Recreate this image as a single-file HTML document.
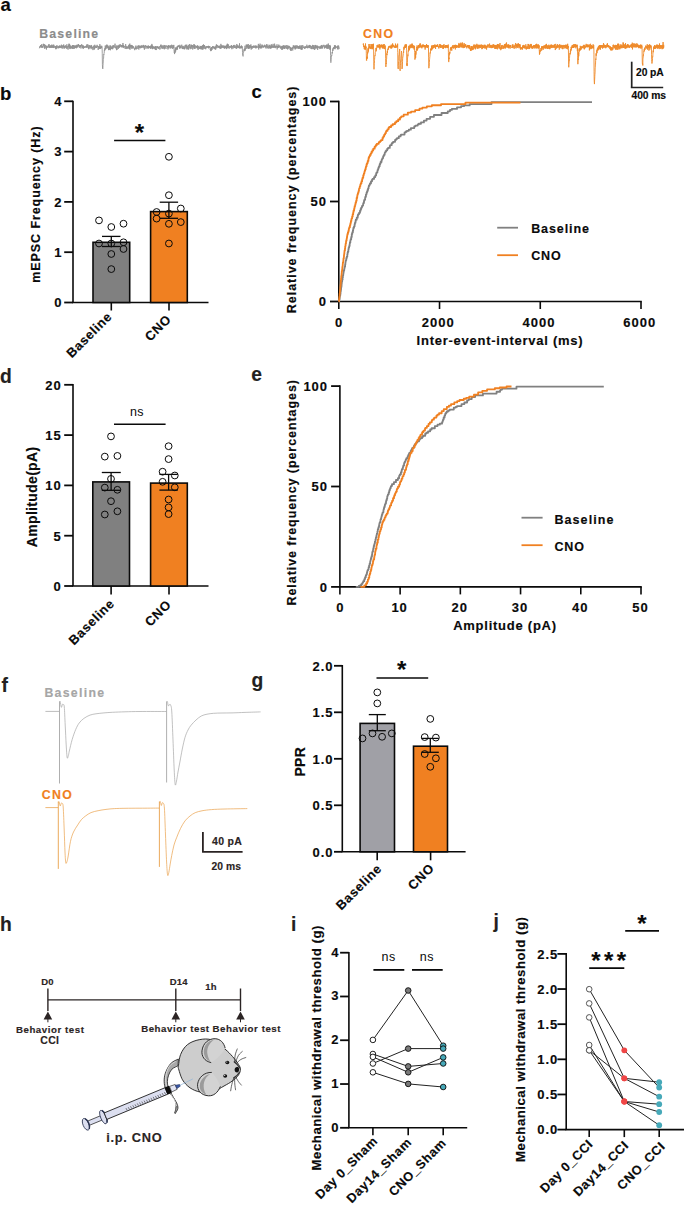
<!DOCTYPE html>
<html><head><meta charset="utf-8"><style>
html,body{margin:0;padding:0;background:#fff;}
svg{display:block;font-family:"Liberation Sans", sans-serif;}
</style></head><body>
<svg width="685" height="1205" viewBox="0 0 685 1205">
<rect width="685" height="1205" fill="#fff"/>
<text x="0.5" y="11.1" font-size="18.5" font-weight="bold" text-anchor="start" fill="#0a0a0a" stroke="#0a0a0a" stroke-width="0.15">a</text>
<text x="0" y="99.6" font-size="18.5" font-weight="bold" text-anchor="start" fill="#0a0a0a" stroke="#0a0a0a" stroke-width="0.15">b</text>
<text x="251.5" y="98" font-size="18.5" font-weight="bold" text-anchor="start" fill="#0a0a0a" stroke="#0a0a0a" stroke-width="0.15">c</text>
<text x="0" y="382.9" font-size="19.3" font-weight="bold" text-anchor="start" fill="#231f20" stroke="#231f20" stroke-width="0.15">d</text>
<text x="251.3" y="381.4" font-size="19.3" font-weight="bold" text-anchor="start" fill="#231f20" stroke="#231f20" stroke-width="0.15">e</text>
<text x="1.5" y="691.5" font-size="19.3" font-weight="bold" text-anchor="start" fill="#231f20" stroke="#231f20" stroke-width="0.15">f</text>
<text x="251.4" y="687" font-size="19.3" font-weight="bold" text-anchor="start" fill="#231f20" stroke="#231f20" stroke-width="0.15">g</text>
<text x="0" y="931" font-size="19.3" font-weight="bold" text-anchor="start" fill="#231f20" stroke="#231f20" stroke-width="0.15">h</text>
<text x="291" y="930.9" font-size="19.3" font-weight="bold" text-anchor="start" fill="#231f20" stroke="#231f20" stroke-width="0.15">i</text>
<text x="493.5" y="928.3" font-size="19.3" font-weight="bold" text-anchor="start" fill="#231f20" stroke="#231f20" stroke-width="0.15">j</text>
<line x1="73.00" y1="100.70" x2="73.00" y2="302.50" stroke="#0a0a0a" stroke-width="1.6" stroke-linecap="butt"/>
<line x1="64.20" y1="302.50" x2="73.00" y2="302.50" stroke="#0a0a0a" stroke-width="1.8" stroke-linecap="butt"/>
<text x="62.5" y="307.3" font-size="13" font-weight="bold" text-anchor="end" fill="#0a0a0a" letter-spacing="0.9" stroke="#0a0a0a" stroke-width="0.15">0</text>
<line x1="64.20" y1="252.20" x2="73.00" y2="252.20" stroke="#0a0a0a" stroke-width="1.8" stroke-linecap="butt"/>
<text x="62.5" y="257.0" font-size="13" font-weight="bold" text-anchor="end" fill="#0a0a0a" letter-spacing="0.9" stroke="#0a0a0a" stroke-width="0.15">1</text>
<line x1="64.20" y1="201.90" x2="73.00" y2="201.90" stroke="#0a0a0a" stroke-width="1.8" stroke-linecap="butt"/>
<text x="62.5" y="206.70000000000002" font-size="13" font-weight="bold" text-anchor="end" fill="#0a0a0a" letter-spacing="0.9" stroke="#0a0a0a" stroke-width="0.15">2</text>
<line x1="64.20" y1="151.60" x2="73.00" y2="151.60" stroke="#0a0a0a" stroke-width="1.8" stroke-linecap="butt"/>
<text x="62.5" y="156.40000000000003" font-size="13" font-weight="bold" text-anchor="end" fill="#0a0a0a" letter-spacing="0.9" stroke="#0a0a0a" stroke-width="0.15">3</text>
<line x1="64.20" y1="101.30" x2="73.00" y2="101.30" stroke="#0a0a0a" stroke-width="1.8" stroke-linecap="butt"/>
<text x="62.5" y="106.10000000000001" font-size="13" font-weight="bold" text-anchor="end" fill="#0a0a0a" letter-spacing="0.9" stroke="#0a0a0a" stroke-width="0.15">4</text>
<line x1="72.20" y1="302.50" x2="208.50" y2="302.50" stroke="#0a0a0a" stroke-width="1.6" stroke-linecap="butt"/>
<line x1="111.30" y1="302.50" x2="111.30" y2="310.50" stroke="#0a0a0a" stroke-width="1.6" stroke-linecap="butt"/>
<line x1="169.00" y1="302.50" x2="169.00" y2="310.50" stroke="#0a0a0a" stroke-width="1.6" stroke-linecap="butt"/>
<rect x="93.00" y="242.30" width="36.70" height="60.20" fill="#808080" stroke="#0a0a0a" stroke-width="1.6"/>
<rect x="150.60" y="211.60" width="36.70" height="90.90" fill="#f08021" stroke="#0a0a0a" stroke-width="1.6"/>
<line x1="111.30" y1="236.40" x2="111.30" y2="246.50" stroke="#0a0a0a" stroke-width="1.3" stroke-linecap="butt"/>
<line x1="102.00" y1="236.40" x2="120.50" y2="236.40" stroke="#0a0a0a" stroke-width="1.3" stroke-linecap="butt"/>
<line x1="102.00" y1="246.50" x2="120.50" y2="246.50" stroke="#0a0a0a" stroke-width="1.3" stroke-linecap="butt"/>
<line x1="168.90" y1="202.20" x2="168.90" y2="218.30" stroke="#0a0a0a" stroke-width="1.3" stroke-linecap="butt"/>
<line x1="159.70" y1="202.20" x2="178.10" y2="202.20" stroke="#0a0a0a" stroke-width="1.3" stroke-linecap="butt"/>
<line x1="159.70" y1="218.30" x2="178.10" y2="218.30" stroke="#0a0a0a" stroke-width="1.3" stroke-linecap="butt"/>
<circle cx="99.00" cy="220.40" r="3.4" fill="none" stroke="#0a0a0a" stroke-width="1.0"/>
<circle cx="111.30" cy="227.00" r="3.4" fill="none" stroke="#0a0a0a" stroke-width="1.0"/>
<circle cx="123.50" cy="223.70" r="3.4" fill="none" stroke="#0a0a0a" stroke-width="1.0"/>
<circle cx="99.00" cy="243.50" r="3.4" fill="none" stroke="#0a0a0a" stroke-width="1.0"/>
<circle cx="111.30" cy="243.50" r="3.4" fill="none" stroke="#0a0a0a" stroke-width="1.0"/>
<circle cx="123.50" cy="242.30" r="3.4" fill="none" stroke="#0a0a0a" stroke-width="1.0"/>
<circle cx="123.50" cy="249.00" r="3.4" fill="none" stroke="#0a0a0a" stroke-width="1.0"/>
<circle cx="111.30" cy="254.00" r="3.4" fill="none" stroke="#0a0a0a" stroke-width="1.0"/>
<circle cx="111.30" cy="269.10" r="3.4" fill="none" stroke="#0a0a0a" stroke-width="1.0"/>
<circle cx="168.90" cy="156.80" r="3.4" fill="none" stroke="#0a0a0a" stroke-width="1.0"/>
<circle cx="168.90" cy="195.20" r="3.4" fill="none" stroke="#0a0a0a" stroke-width="1.0"/>
<circle cx="180.80" cy="208.50" r="3.4" fill="none" stroke="#0a0a0a" stroke-width="1.0"/>
<circle cx="156.60" cy="212.00" r="3.4" fill="none" stroke="#0a0a0a" stroke-width="1.0"/>
<circle cx="168.90" cy="213.60" r="3.4" fill="none" stroke="#0a0a0a" stroke-width="1.0"/>
<circle cx="156.60" cy="218.60" r="3.4" fill="none" stroke="#0a0a0a" stroke-width="1.0"/>
<circle cx="168.90" cy="223.80" r="3.4" fill="none" stroke="#0a0a0a" stroke-width="1.0"/>
<circle cx="180.80" cy="222.10" r="3.4" fill="none" stroke="#0a0a0a" stroke-width="1.0"/>
<circle cx="168.90" cy="243.50" r="3.4" fill="none" stroke="#0a0a0a" stroke-width="1.0"/>
<line x1="114.10" y1="140.50" x2="165.40" y2="140.50" stroke="#0a0a0a" stroke-width="1.6" stroke-linecap="butt"/>
<text x="139.3" y="140.8" font-size="24" font-weight="bold" text-anchor="middle" fill="#0a0a0a" stroke="#0a0a0a" stroke-width="0.15">*</text>
<text x="40" y="204.1" font-size="12.5" font-weight="bold" text-anchor="middle" fill="#0a0a0a" letter-spacing="0.91" transform="rotate(-90 40 204.1)" stroke="#0a0a0a" stroke-width="0.15">mEPSC Frequency (Hz)</text>
<text x="112.9" y="317.4" font-size="13" font-weight="bold" text-anchor="end" fill="#0a0a0a" letter-spacing="0.6" transform="rotate(-45 112.9 317.4)" stroke="#0a0a0a" stroke-width="0.15">Baseline</text>
<text x="172.0" y="320.2" font-size="13" font-weight="bold" text-anchor="end" fill="#0a0a0a" letter-spacing="0.6" transform="rotate(-45 172.0 320.2)" stroke="#0a0a0a" stroke-width="0.15">CNO</text>
<line x1="338.80" y1="100.70" x2="338.80" y2="301.50" stroke="#0a0a0a" stroke-width="1.6" stroke-linecap="butt"/>
<line x1="330.00" y1="301.50" x2="338.80" y2="301.50" stroke="#0a0a0a" stroke-width="1.8" stroke-linecap="butt"/>
<text x="326.8" y="306.3" font-size="13" font-weight="bold" text-anchor="end" fill="#0a0a0a" letter-spacing="0.9" stroke="#0a0a0a" stroke-width="0.15">0</text>
<line x1="330.00" y1="201.50" x2="338.80" y2="201.50" stroke="#0a0a0a" stroke-width="1.8" stroke-linecap="butt"/>
<text x="326.8" y="206.3" font-size="13" font-weight="bold" text-anchor="end" fill="#0a0a0a" letter-spacing="0.9" stroke="#0a0a0a" stroke-width="0.15">50</text>
<line x1="330.00" y1="101.50" x2="338.80" y2="101.50" stroke="#0a0a0a" stroke-width="1.8" stroke-linecap="butt"/>
<text x="326.8" y="106.3" font-size="13" font-weight="bold" text-anchor="end" fill="#0a0a0a" letter-spacing="0.9" stroke="#0a0a0a" stroke-width="0.15">100</text>
<line x1="338.00" y1="301.50" x2="641.80" y2="301.50" stroke="#0a0a0a" stroke-width="1.6" stroke-linecap="butt"/>
<line x1="338.80" y1="301.50" x2="338.80" y2="309.00" stroke="#0a0a0a" stroke-width="1.6" stroke-linecap="butt"/>
<text x="339.1" y="326.5" font-size="13" font-weight="bold" text-anchor="middle" fill="#0a0a0a" letter-spacing="1.0" stroke="#0a0a0a" stroke-width="0.15">0</text>
<line x1="439.53" y1="301.50" x2="439.53" y2="309.00" stroke="#0a0a0a" stroke-width="1.6" stroke-linecap="butt"/>
<text x="438.33333333333337" y="326.5" font-size="13" font-weight="bold" text-anchor="middle" fill="#0a0a0a" letter-spacing="1.0" stroke="#0a0a0a" stroke-width="0.15">2000</text>
<line x1="540.27" y1="301.50" x2="540.27" y2="309.00" stroke="#0a0a0a" stroke-width="1.6" stroke-linecap="butt"/>
<text x="539.0666666666666" y="326.5" font-size="13" font-weight="bold" text-anchor="middle" fill="#0a0a0a" letter-spacing="1.0" stroke="#0a0a0a" stroke-width="0.15">4000</text>
<line x1="641.00" y1="301.50" x2="641.00" y2="309.00" stroke="#0a0a0a" stroke-width="1.6" stroke-linecap="butt"/>
<text x="639.8" y="326.5" font-size="13" font-weight="bold" text-anchor="middle" fill="#0a0a0a" letter-spacing="1.0" stroke="#0a0a0a" stroke-width="0.15">6000</text>
<text x="500" y="344.5" font-size="13" font-weight="bold" text-anchor="middle" fill="#0a0a0a" letter-spacing="0.75" stroke="#0a0a0a" stroke-width="0.15">Inter-event-interval (ms)</text>
<text x="296" y="199.4" font-size="12.5" font-weight="bold" text-anchor="middle" fill="#0a0a0a" letter-spacing="0.97" transform="rotate(-90 296 199.4)" stroke="#0a0a0a" stroke-width="0.15">Relative frequency (percentages)</text>
<polyline points="338.80,301.50 339.21,301.50 339.21,299.37 339.64,299.37 339.64,297.25 339.80,297.25 339.80,296.56 339.89,296.56 339.89,295.83 340.23,295.83 340.23,293.89 340.50,293.89 340.50,292.11 340.76,292.11 340.76,290.44 340.93,290.44 340.93,289.35 341.11,289.35 341.11,287.78 341.28,287.78 341.28,286.21 341.56,286.21 341.56,284.68 341.66,284.68 341.66,283.82 341.77,283.82 341.77,282.54 341.99,282.54 341.99,281.31 342.23,281.31 342.23,279.55 342.63,279.55 342.63,277.36 342.94,277.36 342.94,275.24 343.27,275.24 343.27,273.77 343.45,273.77 343.45,272.46 343.64,272.46 343.64,271.43 343.84,271.43 343.84,270.77 343.84,270.77 343.84,270.13 344.25,270.13 344.25,268.78 344.46,268.78 344.46,267.67 344.68,267.67 344.68,266.46 345.13,266.46 345.13,264.44 345.36,264.44 345.36,263.00 345.60,263.00 345.60,261.50 345.84,261.50 345.84,260.52 346.08,260.52 346.08,259.88 346.33,259.88 346.33,258.76 346.33,258.76 346.33,257.94 346.83,257.94 346.83,256.53 347.33,256.53 347.33,254.33 347.59,254.33 347.59,252.65 347.84,252.65 347.84,251.76 348.35,251.76 348.35,249.73 348.60,249.73 348.60,247.86 349.11,247.86 349.11,246.08 349.62,246.08 349.62,244.03 349.89,244.03 349.89,242.21 350.41,242.21 350.41,240.35 350.68,240.35 350.68,239.18 351.22,239.18 351.22,237.01 351.77,237.01 351.77,234.87 351.77,234.87 351.77,234.01 352.32,234.01 352.32,232.21 352.89,232.21 352.89,230.46 353.17,230.46 353.17,229.12 353.45,229.12 353.45,227.68 354.03,227.68 354.03,226.29 354.61,226.29 354.61,224.21 354.90,224.21 354.90,222.81 355.50,222.81 355.50,220.88 355.80,220.88 355.80,219.71 356.74,219.71 356.74,217.70 357.70,217.70 357.70,215.66 358.02,215.66 358.02,214.32 359.00,214.32 359.00,212.82 359.98,212.82 359.98,210.74 360.63,210.74 360.63,208.99 361.26,208.99 361.26,207.61 361.89,207.61 361.89,206.65 362.20,206.65 362.20,205.53 363.09,205.53 363.09,203.81 363.39,203.81 363.39,202.95 363.96,202.95 363.96,200.89 364.25,200.89 364.25,199.87 365.09,199.87 365.09,197.81 365.37,197.81 365.37,196.71 365.92,196.71 365.92,194.58 366.47,194.58 366.47,192.85 367.01,192.85 367.01,191.44 367.54,191.44 367.54,190.02 368.07,190.02 368.07,188.37 368.61,188.37 368.61,186.83 368.87,186.83 368.87,185.73 369.40,185.73 369.40,184.80 369.93,184.80 369.93,183.38 370.98,183.38 370.98,181.29 372.03,181.29 372.03,179.69 372.54,179.69 372.54,178.97 374.06,178.97 374.06,177.06 375.27,177.06 375.27,175.30 376.18,175.30 376.18,173.24 376.61,173.24 376.61,172.34 377.43,172.34 377.43,170.54 377.64,170.54 377.64,169.85 378.24,169.85 378.24,168.21 378.64,168.21 378.64,167.17 379.05,167.17 379.05,166.21 379.69,166.21 379.69,164.21 380.14,164.21 380.14,163.44 380.60,163.44 380.60,162.00 381.53,162.00 381.53,160.03 381.98,160.03 381.98,159.04 382.44,159.04 382.44,158.11 383.14,158.11 383.14,156.10 383.88,156.10 383.88,154.82 384.68,154.82 384.68,153.07 384.97,153.07 384.97,152.42 385.56,152.42 385.56,151.24 386.21,151.24 386.21,150.37 387.27,150.37 387.27,148.69 388.05,148.69 388.05,147.96 389.77,147.96 389.77,145.83 390.22,145.83 390.22,145.19 391.63,145.19 391.63,143.42 392.11,143.42 392.11,142.79 393.09,142.79 393.09,141.78 395.05,141.78 395.05,139.88 396.02,139.88 396.02,139.03 396.97,139.03 396.97,138.13 398.80,138.13 398.80,136.43 400.58,136.43 400.58,135.21 401.02,135.21 401.02,134.54 404.55,134.54 404.55,132.36 405.92,132.36 405.92,131.51 406.85,131.51 406.85,130.86 408.80,130.86 408.80,129.71 410.89,129.71 410.89,128.12 414.25,128.12 414.25,126.33 415.40,126.33 415.40,125.55 417.69,125.55 417.69,124.41 418.81,124.41 418.81,123.76 420.97,123.76 420.97,122.45 423.92,122.45 423.92,120.62 426.59,120.62 426.59,118.84 430.07,118.84 430.07,116.79 433.94,116.79 433.94,114.98 441.54,114.98 441.54,113.00 447.78,113.00 447.78,111.28 449.97,111.28 449.97,109.92 451.85,109.92 451.85,108.96 457.02,108.96 457.02,107.30 461.08,107.30 461.08,106.19 464.06,106.19 464.06,105.43 469.69,105.43 469.69,104.11 491.51,104.11 491.51,102.12 592.00,102.12" fill="none" stroke="#808080" stroke-width="1.8" stroke-linejoin="round"/>
<polyline points="338.80,301.50 338.92,301.50 338.92,300.52 339.08,300.52 339.08,299.05 339.22,299.05 339.22,297.86 339.38,297.86 339.38,296.29 339.56,296.29 339.56,294.69 339.62,294.69 339.62,293.98 339.68,293.98 339.68,293.36 339.87,293.36 339.87,291.42 340.00,291.42 340.00,290.41 340.07,290.41 340.07,289.43 340.26,289.43 340.26,287.24 340.39,287.24 340.39,285.89 340.59,285.89 340.59,283.95 340.73,283.95 340.73,282.59 340.80,282.59 340.80,280.96 340.88,280.96 340.88,280.12 341.04,280.12 341.04,278.51 341.22,278.51 341.22,276.52 341.41,276.52 341.41,275.08 341.63,275.08 341.63,273.30 341.75,273.30 341.75,271.62 341.87,271.62 341.87,270.92 342.14,270.92 342.14,269.11 342.28,269.11 342.28,267.56 342.43,267.56 342.43,266.48 342.58,266.48 342.58,265.83 342.74,265.83 342.74,263.84 342.91,263.84 342.91,262.49 343.25,262.49 343.25,260.74 343.43,260.74 343.43,258.73 343.79,258.73 343.79,256.99 343.98,256.99 343.98,254.92 344.17,254.92 344.17,253.68 344.37,253.68 344.37,251.80 344.56,251.80 344.56,250.49 344.96,250.49 344.96,248.39 345.17,248.39 345.17,246.39 345.37,246.39 345.37,245.63 345.58,245.63 345.58,244.81 345.58,244.81 345.58,243.87 345.99,243.87 345.99,241.72 346.19,241.72 346.19,240.42 346.61,240.42 346.61,238.82 346.82,238.82 346.82,237.74 347.03,237.74 347.03,236.33 347.24,236.33 347.24,235.11 347.46,235.11 347.46,233.95 347.89,233.95 347.89,232.41 348.33,232.41 348.33,230.88 348.78,230.88 348.78,228.83 349.24,228.83 349.24,227.14 349.94,227.14 349.94,225.05 350.42,225.05 350.42,223.08 350.91,223.08 350.91,220.90 351.40,220.90 351.40,219.22 351.65,219.22 351.65,218.36 352.15,218.36 352.15,216.39 352.68,216.39 352.68,214.24 353.22,214.24 353.22,212.20 353.50,212.20 353.50,210.68 354.06,210.68 354.06,208.94 354.35,208.94 354.35,208.00 354.63,208.00 354.63,206.07 355.21,206.07 355.21,204.56 355.49,204.56 355.49,203.50 355.49,203.50 355.49,202.80 356.06,202.80 356.06,200.83 356.63,200.83 356.63,198.65 356.63,198.65 356.63,197.91 357.18,197.91 357.18,196.03 357.46,196.03 357.46,194.77 357.72,194.77 357.72,193.93 357.99,193.93 357.99,192.86 358.50,192.86 358.50,191.03 358.99,191.03 358.99,189.03 359.23,189.03 359.23,188.36 359.70,188.36 359.70,186.78 359.93,186.78 359.93,186.11 360.39,186.11 360.39,184.36 360.83,184.36 360.83,183.23 361.49,183.23 361.49,181.22 362.14,181.22 362.14,179.05 362.57,179.05 362.57,177.64 363.23,177.64 363.23,175.44 363.67,175.44 363.67,174.35 363.90,174.35 363.90,173.62 364.35,173.62 364.35,172.06 364.58,172.06 364.58,171.41 364.80,171.41 364.80,170.50 365.24,170.50 365.24,169.25 365.69,169.25 365.69,167.67 365.91,167.67 365.91,166.82 366.13,166.82 366.13,166.15 366.57,166.15 366.57,164.16 367.03,164.16 367.03,163.06 367.71,163.06 367.71,160.93 368.42,160.93 368.42,158.89 368.66,158.89 368.66,157.69 369.15,157.69 369.15,156.35 369.91,156.35 369.91,154.92 370.72,154.92 370.72,153.29 371.56,153.29 371.56,151.74 372.41,151.74 372.41,150.24 373.27,150.24 373.27,148.65 374.68,148.65 374.68,146.54 375.75,146.54 375.75,145.13 376.73,145.13 376.73,143.84 378.76,143.84 378.76,142.09 380.08,142.09 380.08,141.11 381.01,141.11 381.01,140.03 382.51,140.03 382.51,137.86 383.29,137.86 383.29,136.43 384.08,136.43 384.08,134.95 384.61,134.95 384.61,134.33 385.16,134.33 385.16,133.07 385.99,133.07 385.99,131.54 386.27,131.54 386.27,130.91 387.41,130.91 387.41,129.32 388.60,129.32 388.60,127.71 389.20,127.71 389.20,127.02 391.07,127.02 391.07,125.41 392.69,125.41 392.69,124.07 395.02,124.07 395.02,122.38 396.39,122.38 396.39,121.22 398.16,121.22 398.16,119.48 399.98,119.48 399.98,117.70 400.72,117.70 400.72,117.07 401.46,117.07 401.46,116.37 403.67,116.37 403.67,114.69 407.84,114.69 407.84,112.55 411.08,112.55 411.08,111.55 415.13,111.55 415.13,110.22 419.48,110.22 419.48,108.67 422.34,108.67 422.34,107.56 426.84,107.56 426.84,106.37 431.85,106.37 431.85,105.27 441.03,105.27 441.03,104.08 465.47,104.08 465.47,102.53 520.50,102.53" fill="none" stroke="#f08021" stroke-width="1.8" stroke-linejoin="round"/>
<line x1="497.20" y1="227.70" x2="518.00" y2="227.70" stroke="#808080" stroke-width="1.8" stroke-linecap="butt"/>
<line x1="497.20" y1="255.20" x2="518.00" y2="255.20" stroke="#f08021" stroke-width="1.8" stroke-linecap="butt"/>
<text x="531.2" y="232.6" font-size="12.5" font-weight="bold" text-anchor="start" fill="#0a0a0a" letter-spacing="0.9" stroke="#0a0a0a" stroke-width="0.15">Baseline</text>
<text x="531.2" y="260.1" font-size="12.5" font-weight="bold" text-anchor="start" fill="#0a0a0a" letter-spacing="0.9" stroke="#0a0a0a" stroke-width="0.15">CNO</text>
<line x1="73.00" y1="384.00" x2="73.00" y2="586.00" stroke="#0a0a0a" stroke-width="1.6" stroke-linecap="butt"/>
<line x1="64.20" y1="586.00" x2="73.00" y2="586.00" stroke="#0a0a0a" stroke-width="1.8" stroke-linecap="butt"/>
<text x="61.6" y="590.8" font-size="13" font-weight="bold" text-anchor="end" fill="#0a0a0a" letter-spacing="0.9" stroke="#0a0a0a" stroke-width="0.15">0</text>
<line x1="64.20" y1="535.70" x2="73.00" y2="535.70" stroke="#0a0a0a" stroke-width="1.8" stroke-linecap="butt"/>
<text x="61.6" y="540.5" font-size="13" font-weight="bold" text-anchor="end" fill="#0a0a0a" letter-spacing="0.9" stroke="#0a0a0a" stroke-width="0.15">5</text>
<line x1="64.20" y1="485.40" x2="73.00" y2="485.40" stroke="#0a0a0a" stroke-width="1.8" stroke-linecap="butt"/>
<text x="61.6" y="490.2" font-size="13" font-weight="bold" text-anchor="end" fill="#0a0a0a" letter-spacing="0.9" stroke="#0a0a0a" stroke-width="0.15">10</text>
<line x1="64.20" y1="435.10" x2="73.00" y2="435.10" stroke="#0a0a0a" stroke-width="1.8" stroke-linecap="butt"/>
<text x="61.6" y="439.90000000000003" font-size="13" font-weight="bold" text-anchor="end" fill="#0a0a0a" letter-spacing="0.9" stroke="#0a0a0a" stroke-width="0.15">15</text>
<line x1="64.20" y1="384.80" x2="73.00" y2="384.80" stroke="#0a0a0a" stroke-width="1.8" stroke-linecap="butt"/>
<text x="61.6" y="389.6" font-size="13" font-weight="bold" text-anchor="end" fill="#0a0a0a" letter-spacing="0.9" stroke="#0a0a0a" stroke-width="0.15">20</text>
<line x1="72.20" y1="586.00" x2="208.50" y2="586.00" stroke="#0a0a0a" stroke-width="1.6" stroke-linecap="butt"/>
<line x1="111.10" y1="586.00" x2="111.10" y2="594.50" stroke="#0a0a0a" stroke-width="1.6" stroke-linecap="butt"/>
<line x1="169.00" y1="586.00" x2="169.00" y2="594.50" stroke="#0a0a0a" stroke-width="1.6" stroke-linecap="butt"/>
<rect x="92.80" y="481.90" width="36.70" height="104.10" fill="#808080" stroke="#0a0a0a" stroke-width="1.6"/>
<rect x="150.60" y="483.10" width="36.70" height="102.90" fill="#f08021" stroke="#0a0a0a" stroke-width="1.6"/>
<line x1="111.10" y1="472.50" x2="111.10" y2="490.30" stroke="#0a0a0a" stroke-width="1.3" stroke-linecap="butt"/>
<line x1="101.80" y1="472.50" x2="120.80" y2="472.50" stroke="#0a0a0a" stroke-width="1.3" stroke-linecap="butt"/>
<line x1="101.80" y1="490.30" x2="120.80" y2="490.30" stroke="#0a0a0a" stroke-width="1.3" stroke-linecap="butt"/>
<line x1="168.60" y1="474.40" x2="168.60" y2="490.10" stroke="#0a0a0a" stroke-width="1.3" stroke-linecap="butt"/>
<line x1="159.40" y1="474.40" x2="177.80" y2="474.40" stroke="#0a0a0a" stroke-width="1.3" stroke-linecap="butt"/>
<line x1="159.40" y1="490.10" x2="177.80" y2="490.10" stroke="#0a0a0a" stroke-width="1.3" stroke-linecap="butt"/>
<circle cx="111.00" cy="436.40" r="3.4" fill="none" stroke="#0a0a0a" stroke-width="1.0"/>
<circle cx="104.80" cy="456.60" r="3.4" fill="none" stroke="#0a0a0a" stroke-width="1.0"/>
<circle cx="117.40" cy="455.90" r="3.4" fill="none" stroke="#0a0a0a" stroke-width="1.0"/>
<circle cx="111.00" cy="478.90" r="3.4" fill="none" stroke="#0a0a0a" stroke-width="1.0"/>
<circle cx="104.80" cy="487.60" r="3.4" fill="none" stroke="#0a0a0a" stroke-width="1.0"/>
<circle cx="117.40" cy="489.80" r="3.4" fill="none" stroke="#0a0a0a" stroke-width="1.0"/>
<circle cx="111.00" cy="501.20" r="3.4" fill="none" stroke="#0a0a0a" stroke-width="1.0"/>
<circle cx="117.40" cy="511.30" r="3.4" fill="none" stroke="#0a0a0a" stroke-width="1.0"/>
<circle cx="104.80" cy="514.50" r="3.4" fill="none" stroke="#0a0a0a" stroke-width="1.0"/>
<circle cx="168.60" cy="446.20" r="3.4" fill="none" stroke="#0a0a0a" stroke-width="1.0"/>
<circle cx="168.60" cy="459.10" r="3.4" fill="none" stroke="#0a0a0a" stroke-width="1.0"/>
<circle cx="162.60" cy="471.70" r="3.4" fill="none" stroke="#0a0a0a" stroke-width="1.0"/>
<circle cx="174.80" cy="475.50" r="3.4" fill="none" stroke="#0a0a0a" stroke-width="1.0"/>
<circle cx="162.60" cy="481.80" r="3.4" fill="none" stroke="#0a0a0a" stroke-width="1.0"/>
<circle cx="174.80" cy="487.30" r="3.4" fill="none" stroke="#0a0a0a" stroke-width="1.0"/>
<circle cx="168.60" cy="499.50" r="3.4" fill="none" stroke="#0a0a0a" stroke-width="1.0"/>
<circle cx="168.60" cy="507.40" r="3.4" fill="none" stroke="#0a0a0a" stroke-width="1.0"/>
<circle cx="168.60" cy="514.10" r="3.4" fill="none" stroke="#0a0a0a" stroke-width="1.0"/>
<line x1="114.00" y1="424.30" x2="165.60" y2="424.30" stroke="#0a0a0a" stroke-width="1.6" stroke-linecap="butt"/>
<text x="136.9" y="416" font-size="12.5" font-weight="normal" text-anchor="middle" fill="#0a0a0a" letter-spacing="0.4">ns</text>
<text x="36.7" y="496.9" font-size="14" font-weight="bold" text-anchor="middle" fill="#0a0a0a" letter-spacing="0.32" transform="rotate(-90 36.7 496.9)" stroke="#0a0a0a" stroke-width="0.15">Amplitude(pA)</text>
<text x="115.2" y="604.5" font-size="13" font-weight="bold" text-anchor="end" fill="#0a0a0a" letter-spacing="0.6" transform="rotate(-45 115.2 604.5)" stroke="#0a0a0a" stroke-width="0.15">Baseline</text>
<text x="172" y="605.5" font-size="13" font-weight="bold" text-anchor="end" fill="#0a0a0a" letter-spacing="0.6" transform="rotate(-45 172 605.5)" stroke="#0a0a0a" stroke-width="0.15">CNO</text>
<line x1="339.90" y1="385.30" x2="339.90" y2="586.90" stroke="#0a0a0a" stroke-width="1.6" stroke-linecap="butt"/>
<line x1="331.10" y1="586.90" x2="339.90" y2="586.90" stroke="#0a0a0a" stroke-width="1.8" stroke-linecap="butt"/>
<text x="327.8" y="591.6999999999999" font-size="13" font-weight="bold" text-anchor="end" fill="#0a0a0a" letter-spacing="0.9" stroke="#0a0a0a" stroke-width="0.15">0</text>
<line x1="331.10" y1="486.50" x2="339.90" y2="486.50" stroke="#0a0a0a" stroke-width="1.8" stroke-linecap="butt"/>
<text x="327.8" y="491.3" font-size="13" font-weight="bold" text-anchor="end" fill="#0a0a0a" letter-spacing="0.9" stroke="#0a0a0a" stroke-width="0.15">50</text>
<line x1="331.10" y1="386.10" x2="339.90" y2="386.10" stroke="#0a0a0a" stroke-width="1.8" stroke-linecap="butt"/>
<text x="327.8" y="390.9" font-size="13" font-weight="bold" text-anchor="end" fill="#0a0a0a" letter-spacing="0.9" stroke="#0a0a0a" stroke-width="0.15">100</text>
<line x1="339.10" y1="586.90" x2="641.80" y2="586.90" stroke="#0a0a0a" stroke-width="1.6" stroke-linecap="butt"/>
<line x1="339.90" y1="586.90" x2="339.90" y2="594.40" stroke="#0a0a0a" stroke-width="1.6" stroke-linecap="butt"/>
<text x="340.4" y="612.0" font-size="13" font-weight="bold" text-anchor="middle" fill="#0a0a0a" letter-spacing="1.0" stroke="#0a0a0a" stroke-width="0.15">0</text>
<line x1="400.12" y1="586.90" x2="400.12" y2="594.40" stroke="#0a0a0a" stroke-width="1.6" stroke-linecap="butt"/>
<text x="399.62" y="612.0" font-size="13" font-weight="bold" text-anchor="middle" fill="#0a0a0a" letter-spacing="1.0" stroke="#0a0a0a" stroke-width="0.15">10</text>
<line x1="460.34" y1="586.90" x2="460.34" y2="594.40" stroke="#0a0a0a" stroke-width="1.6" stroke-linecap="butt"/>
<text x="459.84" y="612.0" font-size="13" font-weight="bold" text-anchor="middle" fill="#0a0a0a" letter-spacing="1.0" stroke="#0a0a0a" stroke-width="0.15">20</text>
<line x1="520.56" y1="586.90" x2="520.56" y2="594.40" stroke="#0a0a0a" stroke-width="1.6" stroke-linecap="butt"/>
<text x="520.06" y="612.0" font-size="13" font-weight="bold" text-anchor="middle" fill="#0a0a0a" letter-spacing="1.0" stroke="#0a0a0a" stroke-width="0.15">30</text>
<line x1="580.78" y1="586.90" x2="580.78" y2="594.40" stroke="#0a0a0a" stroke-width="1.6" stroke-linecap="butt"/>
<text x="580.28" y="612.0" font-size="13" font-weight="bold" text-anchor="middle" fill="#0a0a0a" letter-spacing="1.0" stroke="#0a0a0a" stroke-width="0.15">40</text>
<line x1="641.00" y1="586.90" x2="641.00" y2="594.40" stroke="#0a0a0a" stroke-width="1.6" stroke-linecap="butt"/>
<text x="640.5" y="612.0" font-size="13" font-weight="bold" text-anchor="middle" fill="#0a0a0a" letter-spacing="1.0" stroke="#0a0a0a" stroke-width="0.15">50</text>
<text x="505" y="629.5" font-size="13" font-weight="bold" text-anchor="middle" fill="#0a0a0a" letter-spacing="0.75" stroke="#0a0a0a" stroke-width="0.15">Amplitude (pA)</text>
<text x="296" y="492.3" font-size="12.5" font-weight="bold" text-anchor="middle" fill="#0a0a0a" letter-spacing="0.93" transform="rotate(-90 296 492.3)" stroke="#0a0a0a" stroke-width="0.15">Relative frequency (percentages)</text>
<polyline points="355.80,586.90 358.81,586.90 358.81,585.92 360.31,585.92 360.31,585.16 361.47,585.16 361.47,583.92 362.26,583.92 362.26,583.08 362.77,583.08 362.77,582.37 363.28,582.37 363.28,581.13 364.29,581.13 364.29,579.06 365.06,579.06 365.06,577.18 365.82,577.18 365.82,575.35 366.32,575.35 366.32,574.40 366.83,574.40 366.83,572.94 367.08,572.94 367.08,571.90 367.34,571.90 367.34,571.02 367.59,571.02 367.59,570.25 368.10,570.25 368.10,569.31 368.61,569.31 368.61,567.22 369.13,567.22 369.13,565.30 369.66,565.30 369.66,563.41 370.19,563.41 370.19,561.53 370.45,561.53 370.45,560.62 370.72,560.62 370.72,559.52 370.98,559.52 370.98,557.92 371.51,557.92 371.51,556.15 372.02,556.15 372.02,554.18 372.28,554.18 372.28,552.17 372.53,552.17 372.53,551.43 373.03,551.43 373.03,549.86 373.27,549.86 373.27,548.19 373.74,548.19 373.74,546.78 373.74,546.78 373.74,545.89 374.20,545.89 374.20,544.54 374.42,544.54 374.42,543.79 374.84,543.79 374.84,541.70 375.42,541.70 375.42,539.71 375.79,539.71 375.79,538.24 375.96,538.24 375.96,537.16 376.49,537.16 376.49,535.10 376.85,535.10 376.85,533.59 377.39,533.59 377.39,531.57 377.76,531.57 377.76,529.62 378.16,529.62 378.16,528.20 378.58,528.20 378.58,526.94 379.03,526.94 379.03,525.38 379.26,525.38 379.26,524.09 379.50,524.09 379.50,523.24 379.74,523.24 379.74,522.15 380.49,522.15 380.49,520.25 380.49,520.25 380.49,519.58 380.75,519.58 380.75,518.90 381.27,518.90 381.27,517.30 381.54,517.30 381.54,516.25 381.81,516.25 381.81,514.80 382.34,514.80 382.34,513.44 382.61,513.44 382.61,512.30 383.42,512.30 383.42,510.10 383.69,510.10 383.69,509.19 383.95,509.19 383.95,507.93 384.22,507.93 384.22,507.00 384.74,507.00 384.74,505.39 385.00,505.39 385.00,504.35 385.51,504.35 385.51,503.18 386.00,503.18 386.00,501.38 386.25,501.38 386.25,500.27 386.74,500.27 386.74,498.78 387.22,498.78 387.22,496.73 387.47,496.73 387.47,495.97 387.71,495.97 387.71,495.27 387.96,495.27 387.96,494.30 388.70,494.30 388.70,492.48 389.21,492.48 389.21,490.89 389.46,490.89 389.46,489.91 389.99,489.91 389.99,488.79 390.26,488.79 390.26,487.90 390.82,487.90 390.82,486.57 391.10,486.57 391.10,485.90 392.00,485.90 392.00,484.18 393.94,484.18 393.94,482.15 395.96,482.15 395.96,480.02 397.90,480.02 397.90,478.25 399.08,478.25 399.08,476.11 399.36,476.11 399.36,475.48 399.89,475.48 399.89,474.42 400.89,474.42 400.89,472.27 401.61,472.27 401.61,470.43 401.85,470.43 401.85,469.18 402.81,469.18 402.81,467.07 403.30,467.07 403.30,465.47 404.07,465.47 404.07,463.56 404.34,463.56 404.34,462.50 404.90,462.50 404.90,461.59 405.49,461.59 405.49,460.28 405.79,460.28 405.79,459.46 406.40,459.46 406.40,458.25 407.67,458.25 407.67,456.11 408.33,456.11 408.33,454.98 408.66,454.98 408.66,454.37 408.99,454.37 408.99,453.69 409.32,453.69 409.32,452.82 410.64,452.82 410.64,450.97 411.30,450.97 411.30,449.79 411.96,449.79 411.96,448.72 412.28,448.72 412.28,447.97 413.82,447.97 413.82,445.80 414.68,445.80 414.68,444.52 415.54,444.52 415.54,443.59 416.11,443.59 416.11,442.89 416.71,442.89 416.71,442.20 417.32,442.20 417.32,441.33 419.03,441.33 419.03,439.65 419.79,439.65 419.79,438.81 420.63,438.81 420.63,438.15 422.03,438.15 422.03,436.76 423.06,436.76 423.06,435.76 425.23,435.76 425.23,433.57 426.36,433.57 426.36,432.77 428.03,432.77 428.03,431.32 430.17,431.32 430.17,429.49 431.63,429.49 431.63,428.23 434.85,428.23 434.85,426.05 437.53,426.05 437.53,424.69 439.80,424.69 439.80,423.70 442.00,423.70 442.00,422.44 442.29,422.44 442.29,421.78 442.76,421.78 442.76,420.51 443.10,420.51 443.10,419.51 443.66,419.51 443.66,417.49 444.57,417.49 444.57,415.56 445.12,415.56 445.12,414.16 445.41,414.16 445.41,413.51 446.07,413.51 446.07,412.50 446.80,412.50 446.80,411.52 448.08,411.52 448.08,410.58 449.60,410.58 449.60,409.61 453.80,409.61 453.80,407.62 455.75,407.62 455.75,406.79 457.06,406.79 457.06,406.11 461.50,406.11 461.50,404.03 464.36,404.03 464.36,402.52 467.10,402.52 467.10,400.34 468.77,400.34 468.77,399.09 471.73,399.09 471.73,397.05 475.07,397.05 475.07,395.40 482.93,395.40 482.93,393.54 496.57,393.54 496.57,391.75 500.06,391.75 500.06,390.36 500.69,390.36 500.69,389.61 502.10,389.61 502.10,388.67 516.47,388.67 516.47,386.67 603.80,386.67" fill="none" stroke="#808080" stroke-width="1.8" stroke-linejoin="round"/>
<polyline points="360.40,586.90 364.31,586.90 364.31,585.30 366.07,585.30 366.07,583.52 367.11,583.52 367.11,581.64 367.85,581.64 367.85,579.54 368.58,579.54 368.58,577.75 369.31,577.75 369.31,575.68 369.31,575.68 369.31,575.03 369.80,575.03 369.80,573.69 370.30,573.69 370.30,571.58 370.81,571.58 370.81,569.94 371.33,569.94 371.33,567.90 371.59,567.90 371.59,567.12 371.86,567.12 371.86,565.76 372.14,565.76 372.14,564.77 372.70,564.77 372.70,563.30 372.99,563.30 372.99,561.78 372.99,561.78 372.99,561.16 373.29,561.16 373.29,560.21 373.59,560.21 373.59,559.17 374.20,559.17 374.20,557.10 374.51,557.10 374.51,555.28 374.83,555.28 374.83,554.42 375.15,554.42 375.15,552.54 375.15,552.54 375.15,551.72 375.47,551.72 375.47,550.13 375.80,550.13 375.80,549.33 375.80,549.33 375.80,548.73 376.46,548.73 376.46,546.73 376.46,546.73 376.46,545.80 376.79,545.80 376.79,544.85 377.12,544.85 377.12,542.68 377.78,542.68 377.78,540.69 377.78,540.69 377.78,539.62 378.44,539.62 378.44,537.49 378.77,537.49 378.77,536.02 379.10,536.02 379.10,534.34 379.43,534.34 379.43,533.41 379.76,533.41 379.76,531.31 380.40,531.31 380.40,529.60 381.04,529.60 381.04,527.45 381.67,527.45 381.67,525.42 381.99,525.42 381.99,524.35 382.30,524.35 382.30,523.17 382.62,523.17 382.62,522.30 382.94,522.30 382.94,521.47 383.25,521.47 383.25,520.77 383.88,520.77 383.88,519.68 384.52,519.68 384.52,518.12 384.83,518.12 384.83,517.51 385.46,517.51 385.46,515.83 386.10,515.83 386.10,514.69 386.73,514.69 386.73,513.59 387.68,513.59 387.68,511.68 388.00,511.68 388.00,510.31 388.63,510.31 388.63,509.21 389.26,509.21 389.26,507.84 389.88,507.84 389.88,506.11 390.19,506.11 390.19,505.42 391.13,505.42 391.13,503.26 391.44,503.26 391.44,502.62 392.06,502.62 392.06,500.82 393.02,500.82 393.02,498.87 393.02,498.87 393.02,498.24 394.00,498.24 394.00,496.38 394.33,496.38 394.33,495.20 395.01,495.20 395.01,493.67 395.35,493.67 395.35,493.06 395.70,493.06 395.70,492.38 396.06,492.38 396.06,491.49 396.80,491.49 396.80,489.36 397.18,489.36 397.18,488.45 397.97,488.45 397.97,486.64 399.18,486.64 399.18,484.55 399.99,484.55 399.99,482.44 400.40,482.44 400.40,481.29 401.21,481.29 401.21,480.13 401.61,480.13 401.61,478.69 402.40,478.69 402.40,476.85 402.78,476.85 402.78,476.07 403.53,476.07 403.53,474.27 404.24,474.27 404.24,472.40 404.90,472.40 404.90,470.42 405.21,470.42 405.21,469.76 406.06,469.76 406.06,467.65 406.32,467.65 406.32,466.91 406.57,466.91 406.57,465.76 407.05,465.76 407.05,464.18 407.73,464.18 407.73,462.11 407.95,462.11 407.95,460.97 408.62,460.97 408.62,458.89 409.09,458.89 409.09,457.42 409.58,457.42 409.58,456.32 409.84,456.32 409.84,455.21 410.11,455.21 410.11,454.33 410.39,454.33 410.39,453.60 410.69,453.60 410.69,452.77 411.66,452.77 411.66,451.06 412.71,451.06 412.71,448.87 413.08,448.87 413.08,448.01 413.46,448.01 413.46,447.33 414.61,447.33 414.61,445.15 415.41,445.15 415.41,443.70 416.21,443.70 416.21,442.45 416.61,442.45 416.61,441.47 417.42,441.47 417.42,439.92 418.63,439.92 418.63,438.00 419.42,438.00 419.42,436.67 420.20,436.67 420.20,435.39 420.58,435.39 420.58,434.70 422.06,434.70 422.06,432.64 422.43,432.64 422.43,431.99 423.51,431.99 423.51,430.60 424.97,430.60 424.97,428.66 425.35,428.66 425.35,427.85 426.88,427.85 426.88,426.08 428.52,426.08 428.52,423.96 429.85,423.96 429.85,422.35 431.75,422.35 431.75,420.49 432.25,420.49 432.25,419.72 433.77,419.72 433.77,418.42 434.29,418.42 434.29,417.58 436.40,417.58 436.40,415.63 437.46,415.63 437.46,414.56 439.06,414.56 439.06,413.23 441.70,413.23 441.70,411.04 443.76,411.04 443.76,409.07 446.84,409.07 446.84,406.91 448.91,406.91 448.91,405.58 451.02,405.58 451.02,404.20 454.30,404.20 454.30,402.44 457.17,402.44 457.17,401.07 459.54,401.07 459.54,400.00 463.77,400.00 463.77,398.76 466.20,398.76 466.20,397.92 469.20,397.92 469.20,396.72 473.96,396.72 473.96,394.54 478.13,394.54 478.13,392.40 482.30,392.40 482.30,390.80 487.07,390.80 487.07,389.40 494.82,389.40 494.82,388.26 499.75,388.26 499.75,387.52 506.56,387.52 506.56,386.48 511.50,386.48" fill="none" stroke="#f08021" stroke-width="1.8" stroke-linejoin="round"/>
<line x1="521.50" y1="517.70" x2="542.60" y2="517.70" stroke="#808080" stroke-width="1.8" stroke-linecap="butt"/>
<line x1="521.50" y1="545.20" x2="542.60" y2="545.20" stroke="#f08021" stroke-width="1.8" stroke-linecap="butt"/>
<text x="554.4" y="523.5" font-size="12.5" font-weight="bold" text-anchor="start" fill="#0a0a0a" letter-spacing="1.1" stroke="#0a0a0a" stroke-width="0.15">Baseline</text>
<text x="554.4" y="551" font-size="12.5" font-weight="bold" text-anchor="start" fill="#0a0a0a" letter-spacing="0.9" stroke="#0a0a0a" stroke-width="0.15">CNO</text>
<line x1="342.30" y1="665.00" x2="342.30" y2="851.80" stroke="#0a0a0a" stroke-width="1.6" stroke-linecap="butt"/>
<line x1="334.00" y1="851.80" x2="342.30" y2="851.80" stroke="#0a0a0a" stroke-width="1.8" stroke-linecap="butt"/>
<text x="333.3" y="856.5999999999999" font-size="13" font-weight="bold" text-anchor="end" fill="#0a0a0a" letter-spacing="0.9" stroke="#0a0a0a" stroke-width="0.15">0.0</text>
<line x1="334.00" y1="805.30" x2="342.30" y2="805.30" stroke="#0a0a0a" stroke-width="1.8" stroke-linecap="butt"/>
<text x="333.3" y="810.0999999999999" font-size="13" font-weight="bold" text-anchor="end" fill="#0a0a0a" letter-spacing="0.9" stroke="#0a0a0a" stroke-width="0.15">0.5</text>
<line x1="334.00" y1="758.80" x2="342.30" y2="758.80" stroke="#0a0a0a" stroke-width="1.8" stroke-linecap="butt"/>
<text x="333.3" y="763.5999999999999" font-size="13" font-weight="bold" text-anchor="end" fill="#0a0a0a" letter-spacing="0.9" stroke="#0a0a0a" stroke-width="0.15">1.0</text>
<line x1="334.00" y1="712.30" x2="342.30" y2="712.30" stroke="#0a0a0a" stroke-width="1.8" stroke-linecap="butt"/>
<text x="333.3" y="717.0999999999999" font-size="13" font-weight="bold" text-anchor="end" fill="#0a0a0a" letter-spacing="0.9" stroke="#0a0a0a" stroke-width="0.15">1.5</text>
<line x1="334.00" y1="665.80" x2="342.30" y2="665.80" stroke="#0a0a0a" stroke-width="1.8" stroke-linecap="butt"/>
<text x="333.3" y="670.5999999999999" font-size="13" font-weight="bold" text-anchor="end" fill="#0a0a0a" letter-spacing="0.9" stroke="#0a0a0a" stroke-width="0.15">2.0</text>
<line x1="341.50" y1="851.80" x2="465.60" y2="851.80" stroke="#0a0a0a" stroke-width="1.6" stroke-linecap="butt"/>
<line x1="377.20" y1="851.80" x2="377.20" y2="860.30" stroke="#0a0a0a" stroke-width="1.6" stroke-linecap="butt"/>
<line x1="430.60" y1="851.80" x2="430.60" y2="860.30" stroke="#0a0a0a" stroke-width="1.6" stroke-linecap="butt"/>
<rect x="360.10" y="723.40" width="34.40" height="128.40" fill="#a0a0a6" stroke="#0a0a0a" stroke-width="1.6"/>
<rect x="413.50" y="746.20" width="34.00" height="105.60" fill="#f08021" stroke="#0a0a0a" stroke-width="1.6"/>
<line x1="377.30" y1="714.60" x2="377.30" y2="730.70" stroke="#0a0a0a" stroke-width="1.3" stroke-linecap="butt"/>
<line x1="368.80" y1="714.60" x2="385.80" y2="714.60" stroke="#0a0a0a" stroke-width="1.3" stroke-linecap="butt"/>
<line x1="368.80" y1="730.70" x2="385.80" y2="730.70" stroke="#0a0a0a" stroke-width="1.3" stroke-linecap="butt"/>
<line x1="430.30" y1="738.40" x2="430.30" y2="752.30" stroke="#0a0a0a" stroke-width="1.3" stroke-linecap="butt"/>
<line x1="421.50" y1="738.40" x2="438.80" y2="738.40" stroke="#0a0a0a" stroke-width="1.3" stroke-linecap="butt"/>
<line x1="421.50" y1="752.30" x2="438.80" y2="752.30" stroke="#0a0a0a" stroke-width="1.3" stroke-linecap="butt"/>
<circle cx="377.30" cy="692.40" r="3.4" fill="none" stroke="#0a0a0a" stroke-width="1.0"/>
<circle cx="377.30" cy="703.40" r="3.4" fill="none" stroke="#0a0a0a" stroke-width="1.0"/>
<circle cx="372.50" cy="733.40" r="3.4" fill="none" stroke="#0a0a0a" stroke-width="1.0"/>
<circle cx="391.80" cy="733.40" r="3.4" fill="none" stroke="#0a0a0a" stroke-width="1.0"/>
<circle cx="362.50" cy="738.40" r="3.4" fill="none" stroke="#0a0a0a" stroke-width="1.0"/>
<circle cx="382.10" cy="736.80" r="3.4" fill="none" stroke="#0a0a0a" stroke-width="1.0"/>
<circle cx="430.30" cy="718.90" r="3.4" fill="none" stroke="#0a0a0a" stroke-width="1.0"/>
<circle cx="424.70" cy="737.10" r="3.4" fill="none" stroke="#0a0a0a" stroke-width="1.0"/>
<circle cx="435.90" cy="737.60" r="3.4" fill="none" stroke="#0a0a0a" stroke-width="1.0"/>
<circle cx="424.70" cy="754.00" r="3.4" fill="none" stroke="#0a0a0a" stroke-width="1.0"/>
<circle cx="435.90" cy="758.30" r="3.4" fill="none" stroke="#0a0a0a" stroke-width="1.0"/>
<circle cx="430.30" cy="766.80" r="3.4" fill="none" stroke="#0a0a0a" stroke-width="1.0"/>
<line x1="376.50" y1="678.00" x2="428.20" y2="678.00" stroke="#0a0a0a" stroke-width="1.6" stroke-linecap="butt"/>
<text x="401.7" y="678" font-size="24" font-weight="bold" text-anchor="middle" fill="#0a0a0a" stroke="#0a0a0a" stroke-width="0.15">*</text>
<text x="305" y="761.7" font-size="14" font-weight="bold" text-anchor="middle" fill="#0a0a0a" letter-spacing="0.3" transform="rotate(-90 305 761.7)" stroke="#0a0a0a" stroke-width="0.15">PPR</text>
<text x="382.5" y="869.5" font-size="13" font-weight="bold" text-anchor="end" fill="#0a0a0a" letter-spacing="0.6" transform="rotate(-45 382.5 869.5)" stroke="#0a0a0a" stroke-width="0.15">Baseline</text>
<text x="435" y="869" font-size="13" font-weight="bold" text-anchor="end" fill="#0a0a0a" letter-spacing="0.6" transform="rotate(-45 435 869)" stroke="#0a0a0a" stroke-width="0.15">CNO</text>
<text x="39.2" y="37.8" font-size="12.3" font-weight="bold" text-anchor="start" fill="#8c8c8c" letter-spacing="1.2" stroke="#8c8c8c" stroke-width="0.15">Baseline</text>
<polyline points="39.40,48.34 39.55,47.98 39.70,46.53 39.85,47.14 40.00,47.79 40.15,47.00 40.30,45.95 40.45,46.53 40.60,45.21 40.75,46.55 40.90,46.45 41.05,45.29 41.20,47.10 41.35,45.90 41.50,44.53 41.65,44.29 41.80,47.99 41.95,47.49 42.10,46.25 42.25,47.25 42.40,46.46 42.55,46.00 42.70,46.58 42.85,47.81 43.00,45.21 43.15,44.00 43.30,43.79 43.45,45.94 43.60,44.39 43.75,45.91 43.90,45.98 44.05,45.49 44.20,47.20 44.35,44.16 44.50,48.12 44.65,47.34 44.80,48.85 44.95,46.72 45.10,46.72 45.25,45.93 45.40,44.88 45.55,46.68 45.70,47.24 45.85,46.63 46.00,47.94 46.15,46.37 46.30,47.55 46.45,49.54 46.60,46.25 46.75,47.18 46.90,45.57 47.05,46.12 47.20,46.28 47.35,47.46 47.50,47.67 47.65,46.59 47.80,46.73 47.95,47.47 48.10,47.01 48.25,46.49 48.40,45.82 48.55,45.75 48.70,44.88 48.85,46.78 49.00,44.01 49.15,47.93 49.30,46.06 49.45,47.33 49.60,47.66 49.75,47.58 49.90,46.27 50.05,45.65 50.20,47.20 50.35,45.67 50.50,47.65 50.65,46.01 50.80,47.43 50.95,45.48 51.10,46.03 51.25,47.96 51.40,45.77 51.55,47.20 51.70,46.45 51.85,44.58 52.00,47.52 52.15,45.17 52.30,45.75 52.45,47.48 52.60,45.92 52.75,47.75 52.90,47.28 53.05,46.43 53.20,47.00 53.35,44.75 53.50,48.03 53.65,46.59 53.80,44.76 53.95,45.71 54.10,47.90 54.25,47.32 54.40,46.34 54.55,46.53 54.70,45.93 54.85,45.94 55.00,46.25 55.15,47.40 55.30,48.12 55.45,46.01 55.60,48.46 55.75,46.32 55.90,49.29 56.05,47.16 56.20,47.46 56.35,46.27 56.50,48.58 56.65,45.92 56.80,46.78 56.95,45.16 57.10,47.15 57.25,48.26 57.40,47.40 57.55,46.73 57.70,47.03 57.85,47.16 58.00,46.63 58.15,47.75 58.30,47.94 58.45,48.30 58.60,46.34 58.75,47.88 58.90,48.02 59.05,45.87 59.20,47.35 59.35,48.06 59.50,45.85 59.65,45.46 59.80,47.38 59.95,46.85 60.10,47.57 60.25,46.88 60.40,46.18 60.55,47.18 60.70,47.60 60.85,46.17 61.00,45.49 61.15,47.99 61.30,48.28 61.45,44.69 61.60,45.12 61.75,45.29 61.90,47.76 62.05,46.90 62.20,46.54 62.35,47.20 62.50,46.45 62.65,47.40 62.80,48.69 62.95,45.15 63.10,46.73 63.25,46.87 63.40,45.81 63.55,46.62 63.70,44.46 63.85,47.58 64.00,46.23 64.15,47.79 64.30,48.65 64.45,45.91 64.60,47.86 64.75,47.93 64.90,47.71 65.05,46.90 65.20,46.41 65.35,45.24 65.50,45.77 65.65,47.07 65.80,46.54 65.95,48.11 66.10,46.40 66.25,47.62 66.40,47.84 66.55,48.48 66.70,47.77 66.85,44.28 67.00,48.63 67.15,47.96 67.30,46.29 67.45,47.00 67.60,46.84 67.75,47.69 67.90,48.47 68.05,49.60 68.20,46.93 68.35,47.04 68.50,45.33 68.65,46.77 68.80,45.69 68.95,43.69 69.10,46.73 69.25,48.40 69.40,43.92 69.55,45.87 69.70,47.41 69.85,48.29 70.00,44.82 70.15,49.04 70.30,47.82 70.45,46.23 70.60,48.03 70.75,47.86 70.90,45.89 71.05,46.84 71.20,47.24 71.35,48.23 71.50,46.50 71.65,46.63 71.80,48.46 71.95,48.45 72.10,46.64 72.25,46.58 72.40,45.08 72.55,48.62 72.70,45.17 72.85,48.79 73.00,46.56 73.15,46.82 73.30,46.92 73.45,45.16 73.60,46.52 73.75,45.47 73.90,49.01 74.05,46.32 74.20,46.58 74.35,48.40 74.50,45.89 74.65,45.67 74.80,47.34 74.95,47.54 75.10,45.35 75.25,45.70 75.40,47.91 75.55,46.56 75.70,46.73 75.85,45.70 76.00,47.75 76.15,46.11 76.30,48.33 76.45,47.20 76.60,46.97 76.75,44.85 76.90,47.38 77.05,47.55 77.20,44.91 77.35,46.28 77.50,47.05 77.65,46.27 77.80,47.38 77.95,46.29 78.10,44.33 78.25,46.34 78.40,46.12 78.55,44.15 78.70,45.59 78.85,45.53 79.00,45.37 79.15,46.63 79.30,45.43 79.45,46.31 79.60,47.87 79.75,46.95 79.90,45.61 80.05,45.27 80.20,46.10 80.35,44.98 80.50,46.94 80.65,47.07 80.80,45.82 80.95,48.50 81.10,45.84 81.25,45.28 81.40,45.79 81.55,45.55 81.70,44.17 81.85,45.78 82.00,45.41 82.15,46.97 82.30,47.16 82.45,47.99 82.60,45.46 82.75,47.52 82.90,47.92 83.05,45.56 83.20,49.02 83.35,45.70 83.50,47.75 83.65,46.23 83.80,46.76 83.95,46.13 84.10,46.91 84.25,47.41 84.40,47.10 84.55,46.84 84.70,47.95 84.85,46.89 85.00,47.12 85.15,46.38 85.30,47.35 85.45,47.37 85.60,47.38 85.75,46.95 85.90,46.05 86.05,47.08 86.20,45.89 86.35,45.58 86.50,46.49 86.65,47.79 86.80,45.43 86.95,47.33 87.10,44.06 87.25,46.77 87.40,46.95 87.55,47.14 87.70,47.52 87.85,46.55 88.00,46.86 88.15,44.70 88.30,47.02 88.45,48.57 88.60,46.95 88.75,49.23 88.90,47.87 89.05,48.56 89.20,46.78 89.35,45.21 89.50,45.87 89.65,46.67 89.80,47.54 89.95,45.83 90.10,47.81 90.25,45.55 90.40,45.97 90.55,47.08 90.70,46.78 90.85,47.30 91.00,46.42 91.15,49.11 91.30,44.97 91.45,45.96 91.60,45.83 91.75,47.88 91.90,47.49 92.05,46.86 92.20,46.74 92.35,47.87 92.50,47.42 92.65,48.46 92.80,47.00 92.95,50.09 93.10,48.57 93.25,47.98 93.40,45.67 93.55,46.70 93.70,47.30 93.85,46.40 94.00,47.52 94.15,49.42 94.30,47.83 94.45,49.32 94.60,46.01 94.75,44.78 94.90,48.34 95.05,47.20 95.20,45.73 95.35,46.35 95.50,46.68 95.65,46.53 95.80,48.03 95.95,47.65 96.10,45.80 96.25,45.69 96.40,48.00 96.55,46.99 96.70,47.19 96.85,47.67 97.00,46.31 97.15,44.84 97.30,45.37 97.45,46.76 97.60,46.36 97.75,46.82 97.90,46.07 98.05,47.33 98.20,49.91 98.35,47.79 98.50,46.35 98.65,46.98 98.80,47.77 98.95,48.47 99.10,48.76 99.25,46.23 99.40,47.80 99.55,47.43 99.70,48.84 99.85,44.18 100.00,47.01 100.15,47.75 100.30,48.41 100.45,46.90 100.60,48.77 100.75,48.27 100.90,45.75 101.05,47.91 101.20,46.93 101.35,48.18 101.50,46.93 101.65,47.37 101.80,45.85 101.95,46.98 102.10,47.21 102.25,53.61 102.40,64.49 102.55,68.28 102.70,68.70 102.85,68.94 103.00,65.38 103.15,63.32 103.30,59.71 103.45,58.16 103.60,58.26 103.75,54.20 103.90,54.74 104.05,53.43 104.20,53.00 104.35,50.00 104.50,50.58 104.65,48.34 104.80,48.71 104.95,50.34 105.10,49.92 105.25,45.59 105.40,48.17 105.55,49.25 105.70,46.86 105.85,47.75 106.00,49.02 106.15,48.67 106.30,45.11 106.45,47.17 106.60,46.54 106.75,47.15 106.90,44.53 107.05,48.04 107.20,47.92 107.35,45.25 107.50,46.38 107.65,46.64 107.80,48.31 107.95,47.66 108.10,46.12 108.25,47.97 108.40,47.51 108.55,50.12 108.70,47.33 108.85,47.38 109.00,46.50 109.15,45.48 109.30,46.76 109.45,49.70 109.60,47.26 109.75,46.92 109.90,46.70 110.05,49.69 110.20,48.87 110.35,50.25 110.50,45.47 110.65,47.26 110.80,46.25 110.95,48.99 111.10,46.76 111.25,46.75 111.40,47.43 111.55,49.08 111.70,47.49 111.85,47.39 112.00,48.87 112.15,47.22 112.30,45.63 112.45,47.02 112.60,49.26 112.75,47.08 112.90,47.12 113.05,48.42 113.20,45.40 113.35,47.10 113.50,47.20 113.65,46.06 113.80,45.11 113.95,46.05 114.10,46.27 114.25,47.59 114.40,47.17 114.55,46.72 114.70,46.50 114.85,47.25 115.00,43.68 115.15,45.77 115.30,46.56 115.45,46.67 115.60,48.28 115.75,48.22 115.90,47.67 116.05,48.10 116.20,46.72 116.35,45.47 116.50,50.15 116.65,47.66 116.80,46.95 116.95,48.29 117.10,49.80 117.25,47.17 117.40,46.19 117.55,46.63 117.70,47.23 117.85,47.24 118.00,45.18 118.15,47.76 118.30,48.95 118.45,47.36 118.60,45.91 118.75,47.48 118.90,45.45 119.05,47.79 119.20,47.11 119.35,44.47 119.50,46.04 119.65,47.48 119.80,45.97 119.95,46.95 120.10,46.74 120.25,45.70 120.40,45.83 120.55,44.38 120.70,45.75 120.85,45.86 121.00,45.69 121.15,46.70 121.30,47.06 121.45,45.00 121.60,46.56 121.75,46.55 121.90,45.83 122.05,47.60 122.20,46.32 122.35,45.13 122.50,46.55 122.65,46.23 122.80,47.16 122.95,42.99 123.10,46.64 123.25,46.67 123.40,45.30 123.55,47.64 123.70,45.30 123.85,47.61 124.00,47.48 124.15,47.23 124.30,46.47 124.45,47.17 124.60,47.06 124.75,46.34 124.90,46.49 125.05,46.50 125.20,48.96 125.35,47.72 125.50,45.89 125.65,44.15 125.80,45.27 125.95,47.13 126.10,47.10 126.25,48.94 126.40,48.87 126.55,46.60 126.70,46.28 126.85,47.61 127.00,47.29 127.15,48.36 127.30,46.54 127.45,47.49 127.60,47.64 127.75,48.61 127.90,47.30 128.05,48.06 128.20,46.45 128.35,46.02 128.50,45.36 128.65,48.51 128.80,47.62 128.95,45.73 129.10,46.78 129.25,44.47 129.40,46.69 129.55,49.04 129.70,45.83 129.85,43.61 130.00,49.67 130.15,46.60 130.30,45.50 130.45,45.01 130.60,47.48 130.75,45.60 130.90,45.97 131.05,46.90 131.20,45.30 131.35,46.88 131.50,44.96 131.65,48.67 131.80,45.51 131.95,46.44 132.10,45.66 132.25,46.84 132.40,45.66 132.55,46.84 132.70,48.43 132.85,46.16 133.00,47.60 133.15,48.30 133.30,47.69 133.45,47.81 133.60,46.42 133.75,47.20 133.90,48.09 134.05,47.90 134.20,47.88 134.35,48.04 134.50,49.46 134.65,50.15 134.80,48.88 134.95,48.58 135.10,49.14 135.25,48.48 135.40,47.82 135.55,49.06 135.70,48.08 135.85,45.65 136.00,49.14 136.15,47.16 136.30,48.54 136.45,49.30 136.60,49.02 136.75,48.83 136.90,48.98 137.05,45.89 137.20,46.06 137.35,46.32 137.50,46.61 137.65,47.21 137.80,48.44 137.95,48.89 138.10,46.72 138.25,45.34 138.40,47.08 138.55,46.05 138.70,46.37 138.85,49.55 139.00,45.51 139.15,46.16 139.30,46.24 139.45,46.26 139.60,47.96 139.75,46.35 139.90,46.81 140.05,45.69 140.20,47.60 140.35,45.97 140.50,46.49 140.65,48.29 140.80,46.82 140.95,46.39 141.10,46.45 141.25,45.50 141.40,45.44 141.55,45.70 141.70,47.85 141.85,45.63 142.00,47.83 142.15,47.27 142.30,45.99 142.45,46.04 142.60,46.66 142.75,47.24 142.90,46.18 143.05,45.02 143.20,44.93 143.35,46.30 143.50,46.85 143.65,45.20 143.80,48.18 143.95,45.77 144.10,46.76 144.25,46.59 144.40,49.70 144.55,47.44 144.70,46.57 144.85,45.99 145.00,46.72 145.15,46.79 145.30,45.01 145.45,47.46 145.60,48.14 145.75,47.83 145.90,48.16 146.05,48.68 146.20,48.09 146.35,47.73 146.50,45.85 146.65,45.90 146.80,46.88 146.95,45.96 147.10,47.15 147.25,47.99 147.40,46.78 147.55,45.86 147.70,48.03 147.85,47.03 148.00,48.91 148.15,48.43 148.30,48.21 148.45,45.51 148.60,46.77 148.75,48.13 148.90,47.48 149.05,46.28 149.20,47.81 149.35,47.53 149.50,47.04 149.65,46.12 149.80,48.10 149.95,47.64 150.10,46.07 150.25,46.24 150.40,47.96 150.55,48.65 150.70,45.65 150.85,48.37 151.00,47.26 151.15,47.00 151.30,48.14 151.45,45.53 151.60,46.63 151.75,45.80 151.90,43.93 152.05,48.64 152.20,46.80 152.35,45.44 152.50,49.14 152.65,46.34 152.80,47.68 152.95,46.02 153.10,48.18 153.25,46.70 153.40,47.57 153.55,48.25 153.70,47.11 153.85,48.60 154.00,48.17 154.15,47.07 154.30,46.82 154.45,48.15 154.60,46.91 154.75,48.03 154.90,49.26 155.05,46.49 155.20,46.87 155.35,48.03 155.50,49.84 155.65,46.03 155.80,47.21 155.95,47.55 156.10,46.89 156.25,50.05 156.40,49.86 156.55,48.91 156.70,48.96 156.85,48.00 157.00,46.03 157.15,47.88 157.30,47.15 157.45,46.53 157.60,48.21 157.75,48.00 157.90,46.95 158.05,48.05 158.20,47.27 158.35,47.73 158.50,47.01 158.65,48.96 158.80,47.08 158.95,46.58 159.10,47.53 159.25,46.88 159.40,46.32 159.55,46.65 159.70,46.83 159.85,49.59 160.00,48.24 160.15,48.60 160.30,47.24 160.45,46.10 160.60,44.80 160.75,46.72 160.90,47.13 161.05,45.50 161.20,44.71 161.35,46.85 161.50,45.90 161.65,48.23 161.80,47.34 161.95,46.28 162.10,46.85 162.25,48.87 162.40,47.50 162.55,46.91 162.70,45.35 162.85,45.74 163.00,46.88 163.15,48.43 163.30,46.98 163.45,46.78 163.60,46.11 163.75,46.79 163.90,48.50 164.05,44.96 164.20,47.94 164.35,49.30 164.50,47.55 164.65,46.77 164.80,47.92 164.95,45.00 165.10,47.40 165.25,46.26 165.40,46.35 165.55,46.76 165.70,47.59 165.85,48.27 166.00,49.00 166.15,45.83 166.30,45.49 166.45,45.84 166.60,46.48 166.75,46.05 166.90,45.78 167.05,46.38 167.20,46.79 167.35,45.92 167.50,47.29 167.65,46.03 167.80,46.65 167.95,49.45 168.10,47.04 168.25,48.25 168.40,45.08 168.55,46.75 168.70,46.75 168.85,45.77 169.00,48.28 169.15,45.98 169.30,45.65 169.45,47.06 169.60,46.30 169.75,46.36 169.90,46.64 170.05,47.08 170.20,45.50 170.35,48.54 170.50,46.41 170.65,45.89 170.80,46.76 170.95,47.61 171.10,45.23 171.25,46.50 171.40,47.50 171.55,47.79 171.70,44.72 171.85,45.41 172.00,46.84 172.15,47.52 172.30,48.88 172.45,48.17 172.60,48.42 172.75,45.24 172.90,46.72 173.05,48.09 173.20,47.63 173.35,45.68 173.50,46.30 173.65,48.09 173.80,44.90 173.95,49.40 174.10,51.00 174.25,52.68 174.40,51.81 174.55,54.09 174.70,52.57 174.85,50.66 175.00,49.55 175.15,52.73 175.30,47.48 175.45,48.99 175.60,51.42 175.75,51.39 175.90,48.15 176.05,49.59 176.20,47.73 176.35,49.45 176.50,48.81 176.65,47.86 176.80,47.66 176.95,46.92 177.10,49.54 177.25,46.23 177.40,49.46 177.55,47.37 177.70,46.74 177.85,45.73 178.00,47.20 178.15,45.87 178.30,45.72 178.45,46.74 178.60,45.42 178.75,46.40 178.90,46.45 179.05,46.65 179.20,46.03 179.35,47.09 179.50,47.62 179.65,48.69 179.80,44.84 179.95,47.94 180.10,47.07 180.25,46.96 180.40,47.93 180.55,46.05 180.70,45.79 180.85,46.13 181.00,48.44 181.15,47.42 181.30,46.47 181.45,46.28 181.60,46.27 181.75,44.70 181.90,45.99 182.05,47.79 182.20,46.77 182.35,46.98 182.50,49.00 182.65,47.66 182.80,46.30 182.95,46.89 183.10,45.90 183.25,49.13 183.40,47.55 183.55,47.74 183.70,46.80 183.85,46.52 184.00,47.31 184.15,48.98 184.30,47.01 184.45,48.66 184.60,49.35 184.75,47.97 184.90,45.53 185.05,47.34 185.20,48.46 185.35,47.15 185.50,44.78 185.65,45.44 185.80,46.23 185.95,45.60 186.10,47.09 186.25,47.48 186.40,47.12 186.55,46.79 186.70,44.63 186.85,49.44 187.00,46.88 187.15,48.66 187.30,45.97 187.45,48.04 187.60,47.77 187.75,48.04 187.90,48.64 188.05,47.98 188.20,49.52 188.35,44.86 188.50,47.67 188.65,49.39 188.80,48.90 188.95,47.13 189.10,47.04 189.25,47.80 189.40,47.63 189.55,44.07 189.70,45.64 189.85,45.70 190.00,47.86 190.15,48.52 190.30,49.15 190.45,48.65 190.60,46.71 190.75,47.93 190.90,46.44 191.05,44.46 191.20,48.83 191.35,45.00 191.50,46.39 191.65,46.00 191.80,46.44 191.95,46.90 192.10,45.52 192.25,46.06 192.40,45.09 192.55,46.61 192.70,49.51 192.85,47.96 193.00,45.99 193.15,47.10 193.30,46.51 193.45,45.72 193.60,45.13 193.75,44.29 193.90,48.26 194.05,46.21 194.20,46.87 194.35,48.95 194.50,44.50 194.65,47.23 194.80,47.63 194.95,45.76 195.10,45.18 195.25,48.64 195.40,47.45 195.55,47.09 195.70,46.89 195.85,45.93 196.00,45.91 196.15,46.87 196.30,46.56 196.45,47.33 196.60,46.19 196.75,48.04 196.90,48.08 197.05,46.21 197.20,45.64 197.35,48.30 197.50,45.48 197.65,46.72 197.80,48.39 197.95,46.63 198.10,50.03 198.25,47.84 198.40,46.56 198.55,46.67 198.70,46.02 198.85,45.81 199.00,47.87 199.15,48.64 199.30,47.32 199.45,48.68 199.60,48.17 199.75,47.55 199.90,48.37 200.05,47.98 200.20,46.26 200.35,48.91 200.50,49.13 200.65,45.94 200.80,47.38 200.95,46.09 201.10,47.55 201.25,49.28 201.40,48.10 201.55,45.98 201.70,46.87 201.85,48.93 202.00,46.11 202.15,49.54 202.30,47.68 202.45,45.37 202.60,46.64 202.75,46.84 202.90,49.67 203.05,44.98 203.20,48.00 203.35,47.06 203.50,44.42 203.65,47.44 203.80,46.51 203.95,48.95 204.10,48.30 204.25,45.13 204.40,46.18 204.55,45.47 204.70,46.94 204.85,47.49 205.00,46.25 205.15,48.92 205.30,46.76 205.45,47.41 205.60,48.68 205.75,49.28 205.90,49.04 206.05,47.89 206.20,47.27 206.35,46.58 206.50,46.50 206.65,47.62 206.80,46.42 206.95,47.73 207.10,46.17 207.25,46.59 207.40,46.78 207.55,47.35 207.70,47.42 207.85,46.08 208.00,46.82 208.15,47.45 208.30,48.01 208.45,45.81 208.60,48.40 208.75,46.43 208.90,47.93 209.05,46.73 209.20,46.00 209.35,46.19 209.50,47.26 209.65,47.41 209.80,46.09 209.95,47.75 210.10,47.58 210.25,49.93 210.40,49.20 210.55,49.93 210.70,51.13 210.85,48.27 211.00,49.05 211.15,48.37 211.30,47.41 211.45,50.66 211.60,47.02 211.75,48.22 211.90,48.26 212.05,48.69 212.20,49.66 212.35,47.40 212.50,46.42 212.65,47.98 212.80,47.90 212.95,46.10 213.10,46.96 213.25,48.22 213.40,48.51 213.55,47.56 213.70,48.00 213.85,46.21 214.00,46.61 214.15,47.50 214.30,47.54 214.45,47.02 214.60,49.16 214.75,47.58 214.90,48.30 215.05,47.51 215.20,47.57 215.35,46.70 215.50,47.64 215.65,49.73 215.80,46.55 215.95,45.76 216.10,48.37 216.25,45.86 216.40,44.43 216.55,46.14 216.70,44.79 216.85,45.92 217.00,48.12 217.15,46.10 217.30,45.04 217.45,45.42 217.60,46.00 217.75,46.17 217.90,45.90 218.05,47.55 218.20,46.00 218.35,46.25 218.50,45.94 218.65,47.39 218.80,45.87 218.95,47.87 219.10,46.86 219.25,46.19 219.40,47.98 219.55,47.78 219.70,45.72 219.85,48.43 220.00,46.79 220.15,48.24 220.30,48.52 220.45,47.75 220.60,48.56 220.75,45.86 220.90,43.89 221.05,47.39 221.20,45.57 221.35,48.34 221.50,46.56 221.65,46.01 221.80,45.64 221.95,47.04 222.10,45.41 222.25,47.21 222.40,47.39 222.55,46.99 222.70,45.95 222.85,48.00 223.00,46.58 223.15,47.28 223.30,45.45 223.45,46.78 223.60,47.65 223.75,47.56 223.90,46.92 224.05,47.91 224.20,48.41 224.35,45.69 224.50,47.60 224.65,48.58 224.80,46.03 224.95,47.19 225.10,46.71 225.25,46.39 225.40,46.25 225.55,48.07 225.70,45.93 225.85,48.11 226.00,46.69 226.15,45.81 226.30,45.35 226.45,49.09 226.60,46.46 226.75,47.07 226.90,44.70 227.05,45.64 227.20,46.81 227.35,43.69 227.50,48.25 227.65,45.45 227.80,47.45 227.95,44.14 228.10,46.00 228.25,44.71 228.40,48.09 228.55,47.20 228.70,46.82 228.85,46.48 229.00,47.26 229.15,48.71 229.30,48.36 229.45,46.54 229.60,45.95 229.75,46.69 229.90,47.20 230.05,46.34 230.20,46.44 230.35,46.14 230.50,47.50 230.65,46.58 230.80,46.83 230.95,47.05 231.10,47.85 231.25,45.13 231.40,45.79 231.55,46.56 231.70,45.19 231.85,49.21 232.00,46.76 232.15,47.27 232.30,46.19 232.45,46.44 232.60,46.61 232.75,46.83 232.90,46.00 233.05,48.57 233.20,47.17 233.35,47.58 233.50,46.24 233.65,45.13 233.80,46.90 233.95,45.24 234.10,44.90 234.25,45.69 234.40,46.11 234.55,47.81 234.70,46.84 234.85,47.54 235.00,45.19 235.15,47.23 235.30,47.37 235.45,48.26 235.60,46.96 235.75,46.60 235.90,47.16 236.05,47.05 236.20,46.61 236.35,45.95 236.50,48.92 236.65,48.33 236.80,43.99 236.95,46.45 237.10,47.43 237.25,45.83 237.40,47.40 237.55,46.02 237.70,46.23 237.85,45.12 238.00,48.16 238.15,46.08 238.30,46.32 238.45,46.46 238.60,47.96 238.75,45.93 238.90,46.33 239.05,46.59 239.20,47.89 239.35,46.96 239.50,43.34 239.65,46.57 239.80,48.64 239.95,46.90 240.10,47.97 240.25,46.70 240.40,48.25 240.55,46.90 240.70,46.27 240.85,47.70 241.00,47.63 241.15,47.26 241.30,47.75 241.45,45.48 241.60,48.15 241.75,46.48 241.90,48.29 242.05,46.19 242.20,46.93 242.35,48.10 242.50,52.62 242.65,55.23 242.80,55.31 242.95,56.10 243.10,56.37 243.25,53.71 243.40,51.82 243.55,52.07 243.70,51.37 243.85,50.66 244.00,49.42 244.15,50.82 244.30,51.11 244.45,48.65 244.60,50.57 244.75,49.72 244.90,48.94 245.05,45.71 245.20,50.62 245.35,48.09 245.50,48.41 245.65,48.62 245.80,48.35 245.95,48.36 246.10,47.06 246.25,44.54 246.40,46.74 246.55,45.39 246.70,45.89 246.85,48.84 247.00,46.07 247.15,46.54 247.30,44.51 247.45,46.81 247.60,44.98 247.75,48.12 247.90,47.65 248.05,47.10 248.20,45.74 248.35,44.10 248.50,48.90 248.65,46.13 248.80,47.73 248.95,47.45 249.10,48.73 249.25,46.30 249.40,48.20 249.55,45.32 249.70,44.97 249.85,45.63 250.00,45.17 250.15,47.43 250.30,48.04 250.45,45.79 250.60,46.62 250.75,45.96 250.90,44.43 251.05,47.84 251.20,49.57 251.35,46.93 251.50,47.62 251.65,46.06 251.80,46.76 251.95,48.65 252.10,47.88 252.25,47.77 252.40,48.28 252.55,45.98 252.70,46.98 252.85,46.25 253.00,46.14 253.15,46.99 253.30,47.75 253.45,45.56 253.60,45.81 253.75,47.43 253.90,46.41 254.05,46.32 254.20,47.68 254.35,47.18 254.50,45.78 254.65,45.70 254.80,45.78 254.95,46.71 255.10,47.83 255.25,47.29 255.40,46.32 255.55,45.51 255.70,45.88 255.85,48.39 256.00,45.99 256.15,48.11 256.30,47.62 256.45,46.29 256.60,46.02 256.75,47.47 256.90,45.62 257.05,46.01 257.20,46.93 257.35,46.87 257.50,46.99 257.65,47.16 257.80,47.88 257.95,47.67 258.10,46.88 258.25,45.69 258.40,43.90 258.55,47.86 258.70,49.49 258.85,46.75 259.00,46.10 259.15,48.06 259.30,45.74 259.45,46.91 259.60,45.22 259.75,48.06 259.90,46.71 260.05,43.65 260.20,45.18 260.35,47.42 260.50,48.28 260.65,45.91 260.80,47.16 260.95,48.31 261.10,47.09 261.25,47.52 261.40,47.66 261.55,45.68 261.70,48.27 261.85,47.35 262.00,44.49 262.15,46.99 262.30,47.31 262.45,45.89 262.60,46.41 262.75,45.24 262.90,46.81 263.05,46.68 263.20,47.26 263.35,46.20 263.50,46.36 263.65,47.57 263.80,46.43 263.95,47.07 264.10,45.51 264.25,46.29 264.40,46.63 264.55,46.43 264.70,44.72 264.85,46.29 265.00,46.07 265.15,47.17 265.30,45.51 265.45,47.20 265.60,46.60 265.75,45.94 265.90,48.43 266.05,45.92 266.20,46.50 266.35,45.65 266.50,46.46 266.65,44.11 266.80,46.01 266.95,47.24 267.10,48.41 267.25,46.36 267.40,47.65 267.55,47.27 267.70,47.62 267.85,44.64 268.00,45.85 268.15,47.49 268.30,47.58 268.45,48.54 268.60,47.38 268.75,46.01 268.90,46.60 269.05,46.71 269.20,47.68 269.35,44.83 269.50,46.16 269.65,47.49 269.80,47.03 269.95,48.63 270.10,45.84 270.25,47.67 270.40,46.79 270.55,46.98 270.70,48.62 270.85,45.42 271.00,47.03 271.15,47.26 271.30,44.24 271.45,48.18 271.60,45.90 271.75,47.33 271.90,47.35 272.05,46.27 272.20,46.32 272.35,45.80 272.50,45.55 272.65,47.70 272.80,46.66 272.95,47.21 273.10,43.86 273.25,47.58 273.40,45.93 273.55,47.44 273.70,46.78 273.85,45.99 274.00,46.90 274.15,45.74 274.30,47.76 274.45,46.58 274.60,43.67 274.75,46.02 274.90,47.34 275.05,47.06 275.20,46.12 275.35,48.15 275.50,46.62 275.65,45.68 275.80,46.83 275.95,46.46 276.10,47.12 276.25,46.43 276.40,47.47 276.55,46.97 276.70,45.78 276.85,45.68 277.00,44.33 277.15,49.41 277.30,48.34 277.45,46.17 277.60,46.22 277.75,47.57 277.90,46.33 278.05,47.77 278.20,46.95 278.35,45.71 278.50,46.08 278.65,47.85 278.80,44.61 278.95,46.43 279.10,46.57 279.25,46.83 279.40,47.19 279.55,46.04 279.70,46.66 279.85,45.53 280.00,45.71 280.15,47.64 280.30,47.20 280.45,48.60 280.60,47.31 280.75,46.62 280.90,47.64 281.05,47.97 281.20,45.94 281.35,46.68 281.50,46.75 281.65,49.83 281.80,49.58 281.95,47.36 282.10,47.43 282.25,45.96 282.40,48.29 282.55,49.63 282.70,45.72 282.85,48.95 283.00,47.82 283.15,47.91 283.30,48.07 283.45,46.34 283.60,47.72 283.75,45.21 283.90,48.56 284.05,45.44 284.20,47.29 284.35,46.92 284.50,48.93 284.65,46.19 284.80,48.23 284.95,47.62 285.10,48.48 285.25,46.11 285.40,47.29 285.55,45.82 285.70,47.18 285.85,47.17 286.00,45.63 286.15,45.29 286.30,45.00 286.45,48.42 286.60,46.98 286.75,48.52 286.90,48.09 287.05,48.44 287.20,45.36 287.35,46.25 287.50,48.80 287.65,49.47 287.80,47.90 287.95,46.77 288.10,45.65 288.25,48.42 288.40,48.55 288.55,48.29 288.70,46.68 288.85,46.07 289.00,48.34 289.15,45.89 289.30,46.42 289.45,46.47 289.60,46.53 289.75,46.41 289.90,47.96 290.05,47.46 290.20,49.86 290.35,47.34 290.50,49.94 290.65,48.48 290.80,50.59 290.95,48.99 291.10,50.91 291.25,49.69 291.40,47.80 291.55,48.52 291.70,49.08 291.85,48.99 292.00,47.77 292.15,48.20 292.30,47.68 292.45,49.09 292.60,49.19 292.75,50.46 292.90,46.96 293.05,48.58 293.20,45.56 293.35,45.97 293.50,46.86 293.65,46.29 293.80,45.86 293.95,45.23 294.10,48.21 294.25,45.96 294.40,48.15 294.55,47.45 294.70,47.00 294.85,46.94 295.00,48.31 295.15,49.49 295.30,46.74 295.45,49.05 295.60,45.76 295.75,47.15 295.90,45.42 296.05,47.19 296.20,48.05 296.35,47.64 296.50,47.35 296.65,48.50 296.80,46.58 296.95,45.24 297.10,47.50 297.25,46.34 297.40,47.26 297.55,45.91 297.70,47.00 297.85,46.76 298.00,48.78 298.15,46.11 298.30,47.75 298.45,47.25 298.60,48.69 298.75,46.19 298.90,48.10 299.05,47.05 299.20,47.59 299.35,48.45 299.50,45.76 299.65,47.94 299.80,48.63 299.95,46.29 300.10,45.43 300.25,48.51 300.40,47.43 300.55,47.39 300.70,47.62 300.85,47.65 301.00,49.28 301.15,45.81 301.30,49.87 301.45,45.50 301.60,46.55 301.75,48.72 301.90,47.48 302.05,47.41 302.20,49.60 302.35,47.14 302.50,45.51 302.65,45.64 302.80,45.03 302.95,46.06 303.10,48.01 303.25,48.04 303.40,46.94 303.55,47.38 303.70,47.00 303.85,47.19 304.00,46.25 304.15,46.43 304.30,46.66 304.45,47.19 304.60,46.91 304.75,49.00 304.90,47.48 305.05,47.94 305.20,47.18 305.35,47.68 305.50,48.17 305.65,47.70 305.80,46.05 305.95,47.98 306.10,47.15 306.25,46.62 306.40,47.52 306.55,46.76 306.70,46.41 306.85,44.74 307.00,45.62 307.15,47.93 307.30,46.64 307.45,48.26 307.60,47.50 307.75,46.75 307.90,46.51 308.05,45.83 308.20,47.73 308.35,47.56 308.50,47.31 308.65,45.52 308.80,45.61 308.95,47.04 309.10,48.17 309.25,47.08 309.40,47.82 309.55,44.94 309.70,47.25 309.85,47.31 310.00,45.39 310.15,46.99 310.30,45.87 310.45,45.61 310.60,47.83 310.75,48.70 310.90,47.98 311.05,47.12 311.20,46.67 311.35,47.36 311.50,47.29 311.65,49.08 311.80,45.91 311.95,45.97 312.10,49.10 312.25,46.52 312.40,46.91 312.55,44.92 312.70,45.61 312.85,46.02 313.00,47.78 313.15,48.96 313.30,45.06 313.45,49.18 313.60,46.94 313.75,46.88 313.90,47.69 314.05,46.38 314.20,48.23 314.35,46.84 314.50,47.17 314.65,49.99 314.80,48.73 314.95,45.04 315.10,46.49 315.25,48.73 315.40,44.94 315.55,47.31 315.70,48.01 315.85,46.19 316.00,46.67 316.15,45.93 316.30,45.46 316.45,45.56 316.60,48.46 316.75,46.70 316.90,46.29 317.05,47.79 317.20,45.82 317.35,45.68 317.50,47.01 317.65,49.93 317.80,45.86 317.95,46.00 318.10,46.81 318.25,46.91 318.40,46.74 318.55,47.42 318.70,46.95 318.85,47.76 319.00,47.69 319.15,46.54 319.30,48.54 319.45,48.61 319.60,48.73 319.75,47.10 319.90,46.36 320.05,46.45 320.20,47.85 320.35,47.15 320.50,46.78 320.65,48.42 320.80,46.21 320.95,48.79 321.10,45.56 321.25,46.20 321.40,45.38 321.55,46.16 321.70,47.97 321.85,45.86 322.00,44.95 322.15,48.60 322.30,45.99 322.45,47.25 322.60,47.81 322.75,48.17 322.90,46.49 323.05,46.71 323.20,45.49 323.35,45.79 323.50,45.71 323.65,45.61 323.80,44.81 323.95,46.55 324.10,45.44 324.25,46.44 324.40,46.86 324.55,48.49 324.70,46.76 324.85,47.21 325.00,45.52 325.15,47.52 325.30,47.14 325.45,46.62 325.60,47.34 325.75,45.30 325.90,46.48 326.05,47.39 326.20,48.07 326.35,47.63 326.50,44.69 326.65,48.30 326.80,47.71 326.95,46.37 327.10,48.68 327.25,47.18 327.40,44.59 327.55,48.40 327.70,48.74 327.85,47.52 328.00,47.00 328.15,47.29 328.30,43.52 328.45,48.65 328.60,45.89 328.75,45.41 328.90,46.15 329.05,45.43 329.20,47.52 329.35,46.31 329.50,46.78 329.65,45.49 329.80,49.52 329.95,45.29 330.10,45.23 330.25,49.64 330.40,46.13 330.55,55.61 330.70,61.56 330.85,62.66 331.00,61.71 331.15,59.09 331.30,57.67 331.45,55.93 331.60,55.40 331.75,55.87 331.90,54.53 332.05,53.16 332.20,52.04 332.35,53.33 332.50,51.38 332.65,49.38 332.80,48.54 332.95,50.83 333.10,49.14 333.25,48.30 333.40,47.70 333.55,49.02 333.70,47.31 333.85,48.09 334.00,48.08 334.15,47.30 334.30,48.31 334.45,45.29 334.60,48.53 334.75,47.76 334.90,46.49 335.05,49.21 335.20,45.05 335.35,47.09 335.50,46.03 335.65,47.29 335.80,46.93 335.95,47.83 336.10,47.05 336.25,47.38 336.40,47.21 336.55,47.28 336.70,47.32 336.85,46.52 337.00,47.19 337.15,47.40 337.30,45.97 337.45,49.22 337.60,47.60 337.75,47.55 337.90,46.54 338.05,45.33 338.20,49.41 338.35,47.76 338.50,47.68 338.65,45.83 338.80,47.22 338.95,47.14 339.10,47.31 339.25,48.90 339.40,48.90" fill="none" stroke="#909090" stroke-width="0.85" stroke-linejoin="round"/>
<text x="363.0" y="37.8" font-size="12.3" font-weight="bold" text-anchor="start" fill="#f08021" letter-spacing="1.4" stroke="#f08021" stroke-width="0.15">CNO</text>
<polyline points="363.20,44.88 363.32,43.50 363.44,43.53 363.56,46.69 363.68,45.91 363.80,46.21 363.92,46.69 364.04,45.96 364.16,46.53 364.28,49.16 364.40,45.70 364.52,45.79 364.64,45.97 364.76,46.59 364.88,47.41 365.00,46.44 365.12,49.75 365.24,46.08 365.36,49.44 365.48,43.48 365.60,45.91 365.72,47.10 365.84,46.90 365.96,48.11 366.08,46.65 366.20,47.49 366.32,53.85 366.44,60.37 366.56,60.02 366.68,60.39 366.80,57.30 366.92,59.04 367.04,58.78 367.16,56.43 367.28,58.20 367.40,56.38 367.52,52.36 367.64,53.73 367.76,51.56 367.88,52.64 368.00,48.44 368.12,51.16 368.24,50.70 368.36,47.76 368.48,51.51 368.60,48.44 368.72,49.17 368.84,48.60 368.96,44.04 369.08,48.13 369.20,47.61 369.32,48.06 369.44,46.01 369.56,47.49 369.68,48.15 369.80,47.50 369.92,46.59 370.04,44.02 370.16,45.30 370.28,47.75 370.40,48.91 370.52,48.22 370.64,46.99 370.76,46.84 370.88,47.04 371.00,46.93 371.12,47.14 371.24,49.16 371.36,46.20 371.48,46.56 371.60,47.13 371.72,44.15 371.84,48.20 371.96,44.62 372.08,44.64 372.20,47.85 372.32,47.76 372.44,44.46 372.56,49.21 372.68,44.92 372.80,46.46 372.92,48.21 373.04,46.75 373.16,44.35 373.28,47.55 373.40,43.74 373.52,47.95 373.64,50.01 373.76,61.20 373.88,65.78 374.00,69.32 374.12,66.35 374.24,63.70 374.36,63.14 374.48,60.54 374.60,59.28 374.72,57.19 374.84,55.65 374.96,56.02 375.08,55.27 375.20,55.46 375.32,52.40 375.44,51.97 375.56,51.37 375.68,51.23 375.80,50.29 375.92,49.70 376.04,47.87 376.16,51.30 376.28,48.37 376.40,49.34 376.52,49.51 376.64,47.96 376.76,47.15 376.88,46.97 377.00,45.45 377.12,45.72 377.24,45.19 377.36,47.24 377.48,45.67 377.60,45.83 377.72,45.86 377.84,46.51 377.96,47.59 378.08,46.05 378.20,44.46 378.32,47.22 378.44,47.30 378.56,46.12 378.68,45.81 378.80,45.87 378.92,46.31 379.04,46.97 379.16,46.35 379.28,47.85 379.40,47.74 379.52,46.82 379.64,44.19 379.76,46.69 379.88,49.42 380.00,45.61 380.12,47.24 380.24,46.50 380.36,45.61 380.48,45.09 380.60,45.80 380.72,45.38 380.84,46.13 380.96,47.81 381.08,46.53 381.20,44.60 381.32,46.54 381.44,46.93 381.56,45.23 381.68,46.58 381.80,47.01 381.92,44.56 382.04,46.42 382.16,46.88 382.28,45.43 382.40,48.32 382.52,47.16 382.64,44.93 382.76,48.28 382.88,45.83 383.00,46.33 383.12,46.07 383.24,47.49 383.36,45.71 383.48,48.46 383.60,44.42 383.72,46.65 383.84,46.00 383.96,46.20 384.08,45.87 384.20,44.04 384.32,45.82 384.44,49.12 384.56,47.87 384.68,46.83 384.80,46.17 384.92,47.25 385.04,46.69 385.16,45.46 385.28,45.96 385.40,46.81 385.52,47.98 385.64,58.74 385.76,64.60 385.88,66.90 386.00,64.98 386.12,63.31 386.24,64.01 386.36,62.93 386.48,59.18 386.60,58.98 386.72,55.65 386.84,53.41 386.96,55.15 387.08,53.62 387.20,51.86 387.32,50.69 387.44,52.97 387.56,50.88 387.68,50.28 387.80,49.14 387.92,49.93 388.04,48.76 388.16,48.17 388.28,47.64 388.40,49.36 388.52,47.22 388.64,48.22 388.76,46.09 388.88,46.30 389.00,46.27 389.12,46.39 389.24,45.94 389.36,47.31 389.48,47.39 389.60,46.14 389.72,46.96 389.84,47.28 389.96,45.79 390.08,46.74 390.20,47.22 390.32,47.41 390.44,46.05 390.56,47.53 390.68,47.41 390.80,47.96 390.92,47.25 391.04,48.71 391.16,44.76 391.28,46.83 391.40,47.63 391.52,48.16 391.64,45.60 391.76,46.61 391.88,46.84 392.00,48.14 392.12,46.95 392.24,46.29 392.36,44.10 392.48,46.91 392.60,43.42 392.72,44.95 392.84,46.00 392.96,46.96 393.08,46.34 393.20,44.80 393.32,45.73 393.44,46.18 393.56,45.13 393.68,45.87 393.80,46.44 393.92,46.30 394.04,47.32 394.16,46.42 394.28,47.03 394.40,47.63 394.52,47.10 394.64,46.83 394.76,47.33 394.88,45.64 395.00,45.80 395.12,46.74 395.24,46.60 395.36,47.61 395.48,43.63 395.60,47.61 395.72,45.57 395.84,47.13 395.96,47.64 396.08,45.56 396.20,46.94 396.32,47.08 396.44,47.17 396.56,46.91 396.68,46.08 396.80,47.45 396.92,46.85 397.04,46.91 397.16,44.79 397.28,45.37 397.40,44.85 397.52,47.17 397.64,43.67 397.76,52.59 397.88,66.23 398.00,68.04 398.12,68.50 398.24,69.04 398.36,65.87 398.48,61.86 398.60,61.54 398.72,60.49 398.84,55.68 398.96,55.86 399.08,55.54 399.20,54.01 399.32,51.51 399.44,51.25 399.56,50.84 399.68,48.99 399.80,61.34 399.92,69.59 400.04,70.18 400.16,70.89 400.28,65.81 400.40,65.72 400.52,63.79 400.64,60.79 400.76,61.29 400.88,58.80 401.00,56.99 401.12,55.80 401.24,54.85 401.36,52.44 401.48,51.05 401.60,51.91 401.72,53.17 401.84,62.69 401.96,68.69 402.08,67.87 402.20,68.42 402.32,67.75 402.44,64.09 402.56,61.46 402.68,58.20 402.80,57.01 402.92,57.09 403.04,55.32 403.16,55.37 403.28,53.41 403.40,53.32 403.52,51.55 403.64,52.50 403.76,47.27 403.88,47.58 404.00,48.24 404.12,49.58 404.24,46.58 404.36,48.17 404.48,48.12 404.60,46.17 404.72,45.97 404.84,46.50 404.96,46.33 405.08,44.84 405.20,46.05 405.32,44.43 405.44,44.85 405.56,47.98 405.68,45.96 405.80,46.33 405.92,46.59 406.04,46.97 406.16,44.15 406.28,45.50 406.40,46.76 406.52,44.85 406.64,50.16 406.76,60.16 406.88,65.41 407.00,63.32 407.12,66.05 407.24,62.19 407.36,62.09 407.48,57.55 407.60,56.85 407.72,57.23 407.84,54.63 407.96,55.69 408.08,52.85 408.20,52.26 408.32,50.60 408.44,51.33 408.56,48.90 408.68,47.48 408.80,49.55 408.92,46.02 409.04,50.56 409.16,45.70 409.28,49.65 409.40,46.38 409.52,47.93 409.64,47.77 409.76,48.65 409.88,48.51 410.00,44.82 410.12,45.20 410.24,45.71 410.36,44.65 410.48,47.26 410.60,47.24 410.72,47.78 410.84,44.84 410.96,47.38 411.08,46.32 411.20,47.83 411.32,47.93 411.44,46.47 411.56,46.23 411.68,44.40 411.80,46.97 411.92,46.45 412.04,43.49 412.16,46.93 412.28,46.13 412.40,44.56 412.52,47.22 412.64,44.96 412.76,46.68 412.88,48.13 413.00,46.78 413.12,47.21 413.24,46.35 413.36,48.27 413.48,47.06 413.60,46.30 413.72,45.25 413.84,46.58 413.96,46.73 414.08,46.34 414.20,49.74 414.32,46.84 414.44,46.91 414.56,45.97 414.68,52.35 414.80,58.45 414.92,59.60 415.04,58.32 415.16,58.59 415.28,58.39 415.40,58.20 415.52,53.40 415.64,57.85 415.76,51.03 415.88,54.61 416.00,53.47 416.12,51.23 416.24,51.06 416.36,50.18 416.48,48.94 416.60,50.33 416.72,49.38 416.84,47.07 416.96,48.58 417.08,45.39 417.20,47.55 417.32,50.57 417.44,47.50 417.56,48.71 417.68,49.44 417.80,48.70 417.92,48.34 418.04,46.83 418.16,47.41 418.28,46.02 418.40,47.90 418.52,45.04 418.64,48.22 418.76,48.12 418.88,45.85 419.00,46.61 419.12,46.60 419.24,47.11 419.36,44.85 419.48,46.85 419.60,46.70 419.72,46.60 419.84,47.66 419.96,43.90 420.08,47.30 420.20,43.28 420.32,45.21 420.44,47.06 420.56,46.16 420.68,46.90 420.80,45.96 420.92,45.76 421.04,45.36 421.16,47.05 421.28,46.13 421.40,47.42 421.52,46.33 421.64,46.70 421.76,45.99 421.88,48.33 422.00,45.20 422.12,44.69 422.24,47.29 422.36,47.14 422.48,45.28 422.60,45.80 422.72,46.60 422.84,44.68 422.96,46.33 423.08,45.05 423.20,46.11 423.32,46.00 423.44,44.63 423.56,45.71 423.68,46.13 423.80,47.17 423.92,46.70 424.04,46.79 424.16,45.18 424.28,47.29 424.40,46.02 424.52,45.58 424.64,46.61 424.76,45.04 424.88,45.80 425.00,47.35 425.12,49.62 425.24,47.13 425.36,46.99 425.48,47.28 425.60,45.83 425.72,47.62 425.84,45.22 425.96,45.10 426.08,47.14 426.20,46.33 426.32,45.42 426.44,45.20 426.56,44.03 426.68,46.91 426.80,47.51 426.92,45.76 427.04,45.01 427.16,46.18 427.28,45.24 427.40,47.51 427.52,45.13 427.64,47.72 427.76,47.78 427.88,45.62 428.00,47.13 428.12,46.80 428.24,45.26 428.36,46.21 428.48,47.26 428.60,57.14 428.72,63.89 428.84,68.20 428.96,67.94 429.08,66.22 429.20,66.12 429.32,62.37 429.44,61.93 429.56,59.51 429.68,58.42 429.80,57.10 429.92,56.28 430.04,53.53 430.16,53.92 430.28,52.26 430.40,52.87 430.52,50.52 430.64,49.09 430.76,50.34 430.88,49.12 431.00,50.07 431.12,48.01 431.24,50.37 431.36,49.49 431.48,46.16 431.60,48.33 431.72,45.59 431.84,50.15 431.96,48.00 432.08,48.11 432.20,45.48 432.32,48.79 432.44,48.14 432.56,48.23 432.68,47.75 432.80,48.61 432.92,48.46 433.04,45.81 433.16,44.99 433.28,48.04 433.40,46.46 433.52,47.45 433.64,46.74 433.76,45.00 433.88,46.66 434.00,46.38 434.12,45.34 434.24,47.80 434.36,45.60 434.48,45.12 434.60,44.88 434.72,45.85 434.84,46.55 434.96,44.49 435.08,46.26 435.20,46.17 435.32,47.09 435.44,46.26 435.56,49.00 435.68,45.60 435.80,45.85 435.92,46.73 436.04,45.12 436.16,45.01 436.28,46.85 436.40,45.21 436.52,45.11 436.64,46.85 436.76,46.63 436.88,45.70 437.00,46.38 437.12,45.72 437.24,46.59 437.36,44.92 437.48,46.22 437.60,44.25 437.72,44.54 437.84,44.81 437.96,44.79 438.08,46.67 438.20,46.34 438.32,46.92 438.44,47.22 438.56,47.02 438.68,46.66 438.80,48.51 438.92,47.03 439.04,45.93 439.16,45.85 439.28,47.38 439.40,46.73 439.52,47.03 439.64,44.06 439.76,44.40 439.88,44.43 440.00,45.22 440.12,44.87 440.24,45.17 440.36,46.73 440.48,47.26 440.60,44.42 440.72,47.84 440.84,45.44 440.96,47.48 441.08,47.02 441.20,46.63 441.32,47.59 441.44,46.62 441.56,45.38 441.68,45.43 441.80,46.18 441.92,46.54 442.04,47.12 442.16,45.09 442.28,45.24 442.40,45.79 442.52,46.40 442.64,47.09 442.76,45.71 442.88,48.69 443.00,47.22 443.12,48.39 443.24,46.23 443.36,45.26 443.48,48.68 443.60,45.41 443.72,45.87 443.84,46.36 443.96,44.16 444.08,46.03 444.20,46.10 444.32,46.43 444.44,47.52 444.56,47.09 444.68,47.32 444.80,46.92 444.92,45.97 445.04,47.11 445.16,46.31 445.28,47.17 445.40,45.16 445.52,47.98 445.64,48.16 445.76,47.08 445.88,46.71 446.00,47.33 446.12,45.09 446.24,47.58 446.36,45.08 446.48,46.86 446.60,45.42 446.72,46.53 446.84,47.05 446.96,47.19 447.08,45.00 447.20,47.27 447.32,45.70 447.44,47.50 447.56,45.94 447.68,47.16 447.80,48.06 447.92,46.66 448.04,47.35 448.16,44.97 448.28,44.55 448.40,52.21 448.52,59.72 448.64,61.70 448.76,62.08 448.88,61.27 449.00,57.79 449.12,59.13 449.24,56.42 449.36,53.30 449.48,54.49 449.60,54.47 449.72,52.04 449.84,53.55 449.96,51.72 450.08,50.72 450.20,50.57 450.32,48.79 450.44,49.09 450.56,48.53 450.68,47.25 450.80,49.45 450.92,50.35 451.04,48.16 451.16,49.07 451.28,47.71 451.40,47.31 451.52,48.71 451.64,47.41 451.76,50.63 451.88,48.03 452.00,47.36 452.12,47.11 452.24,46.09 452.36,46.25 452.48,48.03 452.60,47.46 452.72,45.66 452.84,47.18 452.96,45.18 453.08,45.09 453.20,46.31 453.32,48.13 453.44,47.34 453.56,48.36 453.68,47.32 453.80,48.15 453.92,46.63 454.04,45.29 454.16,46.37 454.28,47.58 454.40,44.95 454.52,45.77 454.64,46.91 454.76,46.26 454.88,46.80 455.00,47.60 455.12,45.28 455.24,48.65 455.36,49.41 455.48,47.90 455.60,44.77 455.72,46.76 455.84,45.08 455.96,46.89 456.08,46.75 456.20,47.67 456.32,47.63 456.44,45.99 456.56,47.81 456.68,45.08 456.80,47.12 456.92,46.41 457.04,45.55 457.16,46.53 457.28,46.57 457.40,45.94 457.52,46.00 457.64,46.26 457.76,47.19 457.88,45.88 458.00,47.63 458.12,45.91 458.24,47.11 458.36,45.35 458.48,47.61 458.60,46.21 458.72,44.36 458.84,46.23 458.96,42.94 459.08,45.79 459.20,45.88 459.32,47.55 459.44,47.12 459.56,44.55 459.68,45.01 459.80,44.00 459.92,47.62 460.04,45.60 460.16,45.03 460.28,45.92 460.40,43.75 460.52,46.27 460.64,46.18 460.76,45.65 460.88,42.63 461.00,46.91 461.12,44.51 461.24,43.43 461.36,47.05 461.48,44.55 461.60,45.40 461.72,45.60 461.84,47.10 461.96,45.31 462.08,47.80 462.20,45.49 462.32,43.87 462.44,42.51 462.56,45.74 462.68,44.31 462.80,46.81 462.92,47.17 463.04,46.11 463.16,45.53 463.28,48.12 463.40,47.81 463.52,44.72 463.64,45.94 463.76,46.98 463.88,45.85 464.00,46.78 464.12,42.98 464.24,46.67 464.36,47.60 464.48,45.96 464.60,45.69 464.72,47.66 464.84,46.84 464.96,44.48 465.08,45.31 465.20,46.00 465.32,45.39 465.44,46.28 465.56,46.24 465.68,44.10 465.80,46.48 465.92,46.86 466.04,45.92 466.16,46.28 466.28,46.89 466.40,46.99 466.52,46.57 466.64,45.89 466.76,48.33 466.88,47.61 467.00,46.91 467.12,46.42 467.24,46.07 467.36,44.96 467.48,46.80 467.60,46.44 467.72,46.41 467.84,45.28 467.96,47.37 468.08,46.29 468.20,45.15 468.32,46.56 468.44,45.37 468.56,48.29 468.68,47.28 468.80,45.91 468.92,47.11 469.04,45.31 469.16,47.63 469.28,47.41 469.40,48.07 469.52,45.32 469.64,46.92 469.76,49.18 469.88,45.88 470.00,46.30 470.12,48.47 470.24,48.47 470.36,49.26 470.48,50.70 470.60,47.86 470.72,49.69 470.84,50.76 470.96,50.45 471.08,49.28 471.20,50.50 471.32,48.58 471.44,46.06 471.56,49.45 471.68,49.30 471.80,46.59 471.92,47.53 472.04,47.03 472.16,49.05 472.28,48.35 472.40,47.29 472.52,49.10 472.64,50.08 472.76,47.84 472.88,45.94 473.00,48.25 473.12,49.55 473.24,48.50 473.36,49.20 473.48,47.41 473.60,46.06 473.72,46.93 473.84,44.58 473.96,46.09 474.08,45.32 474.20,48.44 474.32,47.40 474.44,46.09 474.56,47.38 474.68,47.43 474.80,48.13 474.92,44.54 475.04,46.10 475.16,46.91 475.28,45.97 475.40,49.33 475.52,45.42 475.64,48.56 475.76,48.40 475.88,45.59 476.00,47.79 476.12,46.52 476.24,46.95 476.36,45.81 476.48,46.91 476.60,45.71 476.72,46.39 476.84,43.82 476.96,46.70 477.08,46.80 477.20,44.95 477.32,48.88 477.44,46.23 477.56,45.99 477.68,46.15 477.80,48.00 477.92,47.02 478.04,44.63 478.16,45.30 478.28,48.17 478.40,48.45 478.52,45.66 478.64,46.72 478.76,45.10 478.88,46.67 479.00,45.41 479.12,46.16 479.24,48.24 479.36,44.82 479.48,45.57 479.60,44.97 479.72,46.89 479.84,45.19 479.96,46.54 480.08,47.77 480.20,45.04 480.32,45.26 480.44,47.89 480.56,44.99 480.68,46.02 480.80,45.50 480.92,45.54 481.04,44.70 481.16,45.78 481.28,44.63 481.40,46.17 481.52,46.63 481.64,45.77 481.76,45.67 481.88,49.16 482.00,46.21 482.12,46.93 482.24,48.65 482.36,48.63 482.48,44.92 482.60,48.20 482.72,45.33 482.84,47.98 482.96,45.94 483.08,47.10 483.20,46.12 483.32,46.49 483.44,47.93 483.56,47.27 483.68,45.55 483.80,45.69 483.92,44.87 484.04,45.17 484.16,45.91 484.28,48.17 484.40,46.39 484.52,45.55 484.64,45.14 484.76,47.07 484.88,44.68 485.00,46.76 485.12,48.66 485.24,46.60 485.36,46.31 485.48,47.37 485.60,45.38 485.72,46.80 485.84,48.13 485.96,47.33 486.08,46.03 486.20,46.01 486.32,46.00 486.44,46.96 486.56,49.59 486.68,48.10 486.80,46.12 486.92,47.65 487.04,47.29 487.16,47.09 487.28,45.02 487.40,47.31 487.52,46.89 487.64,46.57 487.76,46.19 487.88,45.36 488.00,44.08 488.12,46.11 488.24,45.96 488.36,45.70 488.48,46.32 488.60,45.37 488.72,45.34 488.84,46.76 488.96,47.90 489.08,47.73 489.20,46.66 489.32,44.82 489.44,44.93 489.56,43.60 489.68,45.13 489.80,46.38 489.92,45.67 490.04,47.90 490.16,46.22 490.28,46.25 490.40,46.17 490.52,46.85 490.64,44.98 490.76,46.97 490.88,47.05 491.00,48.09 491.12,47.19 491.24,46.00 491.36,44.94 491.48,45.19 491.60,45.60 491.72,47.08 491.84,48.11 491.96,47.13 492.08,45.86 492.20,47.86 492.32,45.40 492.44,47.50 492.56,46.55 492.68,45.53 492.80,47.43 492.92,46.22 493.04,46.53 493.16,44.07 493.28,45.25 493.40,47.25 493.52,45.88 493.64,45.70 493.76,47.39 493.88,44.64 494.00,46.96 494.12,44.94 494.24,47.43 494.36,46.97 494.48,45.23 494.60,45.60 494.72,45.15 494.84,48.81 494.96,47.56 495.08,47.52 495.20,46.30 495.32,48.93 495.44,46.34 495.56,44.97 495.68,48.26 495.80,46.18 495.92,45.05 496.04,46.34 496.16,45.32 496.28,47.50 496.40,45.80 496.52,48.70 496.64,45.94 496.76,47.62 496.88,46.83 497.00,45.64 497.12,44.71 497.24,46.78 497.36,49.32 497.48,43.99 497.60,47.30 497.72,45.58 497.84,46.93 497.96,44.55 498.08,45.39 498.20,46.69 498.32,46.78 498.44,46.97 498.56,45.73 498.68,44.27 498.80,48.38 498.92,46.07 499.04,45.33 499.16,46.44 499.28,44.83 499.40,45.63 499.52,45.07 499.64,48.38 499.76,45.86 499.88,45.45 500.00,43.03 500.12,49.17 500.24,48.28 500.36,48.12 500.48,48.03 500.60,47.35 500.72,50.15 500.84,50.10 500.96,49.83 501.08,48.89 501.20,48.56 501.32,45.11 501.44,48.31 501.56,46.17 501.68,48.76 501.80,47.55 501.92,48.67 502.04,47.86 502.16,46.60 502.28,45.71 502.40,46.34 502.52,46.01 502.64,46.18 502.76,45.08 502.88,44.94 503.00,47.46 503.12,49.00 503.24,46.94 503.36,47.89 503.48,46.08 503.60,46.76 503.72,48.23 503.84,46.92 503.96,46.21 504.08,46.47 504.20,45.78 504.32,46.89 504.44,44.96 504.56,44.31 504.68,48.31 504.80,47.12 504.92,44.16 505.04,47.59 505.16,45.37 505.28,47.50 505.40,48.48 505.52,43.74 505.64,47.31 505.76,46.73 505.88,45.77 506.00,45.33 506.12,46.38 506.24,47.02 506.36,45.14 506.48,42.50 506.60,44.80 506.72,44.96 506.84,47.59 506.96,45.88 507.08,47.04 507.20,46.70 507.32,46.74 507.44,45.33 507.56,46.62 507.68,45.10 507.80,44.53 507.92,47.90 508.04,47.35 508.16,46.28 508.28,44.44 508.40,46.75 508.52,48.25 508.64,45.47 508.76,46.13 508.88,44.66 509.00,44.93 509.12,46.46 509.24,47.75 509.36,46.72 509.48,46.11 509.60,45.77 509.72,45.27 509.84,47.05 509.96,46.10 510.08,48.63 510.20,45.80 510.32,45.72 510.44,45.05 510.56,46.41 510.68,44.99 510.80,45.72 510.92,46.13 511.04,46.34 511.16,46.79 511.28,47.24 511.40,47.43 511.52,47.20 511.64,47.30 511.76,47.86 511.88,47.22 512.00,47.46 512.12,47.43 512.24,46.99 512.36,44.55 512.48,48.06 512.60,46.60 512.72,47.62 512.84,46.15 512.96,44.36 513.08,46.28 513.20,46.90 513.32,46.88 513.44,46.48 513.56,46.49 513.68,46.52 513.80,45.65 513.92,47.74 514.04,46.55 514.16,48.83 514.28,46.24 514.40,46.73 514.52,46.12 514.64,45.61 514.76,44.87 514.88,44.95 515.00,45.41 515.12,46.10 515.24,46.08 515.36,46.43 515.48,43.74 515.60,42.99 515.72,46.75 515.84,47.87 515.96,47.22 516.08,48.41 516.20,47.22 516.32,45.15 516.44,46.73 516.56,45.95 516.68,45.90 516.80,43.96 516.92,46.51 517.04,46.23 517.16,45.05 517.28,43.77 517.40,44.22 517.52,47.82 517.64,45.38 517.76,45.08 517.88,45.92 518.00,44.89 518.12,43.73 518.24,45.84 518.36,46.21 518.48,43.38 518.60,46.16 518.72,46.17 518.84,46.45 518.96,48.19 519.08,44.51 519.20,47.09 519.32,44.41 519.44,46.18 519.56,46.84 519.68,45.53 519.80,44.03 519.92,46.57 520.04,44.79 520.16,48.04 520.28,47.11 520.40,49.35 520.52,46.79 520.64,47.89 520.76,48.57 520.88,49.53 521.00,48.11 521.12,48.59 521.24,48.43 521.36,49.05 521.48,47.48 521.60,48.51 521.72,47.79 521.84,48.53 521.96,47.67 522.08,47.12 522.20,49.23 522.32,48.63 522.44,49.50 522.56,46.38 522.68,47.71 522.80,45.41 522.92,48.13 523.04,47.40 523.16,45.81 523.28,46.99 523.40,45.51 523.52,48.07 523.64,47.09 523.76,44.92 523.88,46.93 524.00,45.62 524.12,46.91 524.24,48.12 524.36,45.65 524.48,46.39 524.60,47.17 524.72,46.97 524.84,48.13 524.96,46.39 525.08,48.69 525.20,47.89 525.32,47.80 525.44,47.28 525.56,46.52 525.68,46.97 525.80,44.32 525.92,45.90 526.04,48.59 526.16,48.06 526.28,49.58 526.40,49.02 526.52,46.97 526.64,46.91 526.76,48.18 526.88,46.36 527.00,48.14 527.12,48.14 527.24,48.89 527.36,47.67 527.48,47.20 527.60,46.46 527.72,48.62 527.84,47.57 527.96,48.06 528.08,43.93 528.20,46.23 528.32,46.52 528.44,44.28 528.56,45.38 528.68,44.69 528.80,48.01 528.92,49.06 529.04,46.44 529.16,46.43 529.28,48.98 529.40,45.30 529.52,45.83 529.64,48.16 529.76,48.45 529.88,46.66 530.00,47.09 530.12,45.14 530.24,44.13 530.36,45.41 530.48,47.34 530.60,45.80 530.72,45.15 530.84,46.89 530.96,43.91 531.08,47.59 531.20,47.09 531.32,44.32 531.44,46.82 531.56,45.53 531.68,48.28 531.80,45.78 531.92,45.89 532.04,48.50 532.16,48.38 532.28,46.59 532.40,46.10 532.52,46.46 532.64,46.51 532.76,48.84 532.88,48.36 533.00,46.58 533.12,46.45 533.24,46.10 533.36,46.88 533.48,45.60 533.60,47.70 533.72,45.36 533.84,46.11 533.96,46.26 534.08,45.21 534.20,45.82 534.32,47.62 534.44,45.33 534.56,46.64 534.68,45.42 534.80,46.95 534.92,48.62 535.04,48.07 535.16,47.20 535.28,46.63 535.40,47.36 535.52,45.38 535.64,47.08 535.76,44.31 535.88,46.91 536.00,46.01 536.12,47.95 536.24,45.45 536.36,44.66 536.48,45.96 536.60,43.81 536.72,45.16 536.84,48.62 536.96,46.50 537.08,46.33 537.20,45.44 537.32,47.83 537.44,47.45 537.56,45.90 537.68,44.60 537.80,46.14 537.92,46.23 538.04,48.18 538.16,46.33 538.28,44.35 538.40,48.13 538.52,46.46 538.64,48.44 538.76,46.05 538.88,45.29 539.00,47.52 539.12,45.56 539.24,50.34 539.36,51.86 539.48,54.65 539.60,51.98 539.72,53.85 539.84,50.66 539.96,50.19 540.08,51.05 540.20,50.29 540.32,51.57 540.44,51.10 540.56,51.36 540.68,51.16 540.80,48.85 540.92,48.03 541.04,49.45 541.16,49.10 541.28,48.78 541.40,48.29 541.52,46.83 541.64,50.64 541.76,49.27 541.88,46.19 542.00,48.49 542.12,46.87 542.24,46.18 542.36,47.88 542.48,47.30 542.60,46.83 542.72,46.70 542.84,48.18 542.96,47.72 543.08,49.91 543.20,46.77 543.32,46.64 543.44,45.95 543.56,48.41 543.68,47.67 543.80,46.91 543.92,47.05 544.04,45.52 544.16,46.71 544.28,47.25 544.40,47.11 544.52,46.32 544.64,48.18 544.76,47.27 544.88,47.75 545.00,45.08 545.12,46.29 545.24,48.79 545.36,44.93 545.48,47.89 545.60,46.23 545.72,46.34 545.84,46.51 545.96,45.10 546.08,46.90 546.20,44.14 546.32,47.54 546.44,43.89 546.56,47.66 546.68,45.94 546.80,48.33 546.92,47.10 547.04,45.97 547.16,48.70 547.28,45.33 547.40,46.86 547.52,47.66 547.64,48.98 547.76,48.52 547.88,46.06 548.00,46.51 548.12,45.58 548.24,46.77 548.36,47.38 548.48,45.98 548.60,47.75 548.72,48.23 548.84,44.71 548.96,48.63 549.08,47.16 549.20,47.27 549.32,49.03 549.44,45.64 549.56,45.93 549.68,46.47 549.80,49.19 549.92,46.18 550.04,48.41 550.16,47.22 550.28,45.48 550.40,46.14 550.52,45.83 550.64,47.11 550.76,46.27 550.88,44.71 551.00,47.47 551.12,45.50 551.24,44.82 551.36,47.63 551.48,45.88 551.60,46.23 551.72,44.71 551.84,46.82 551.96,48.05 552.08,45.69 552.20,47.76 552.32,46.57 552.44,46.80 552.56,46.55 552.68,46.15 552.80,45.03 552.92,46.22 553.04,46.04 553.16,45.92 553.28,46.06 553.40,46.44 553.52,45.73 553.64,47.36 553.76,46.14 553.88,47.75 554.00,45.79 554.12,45.31 554.24,47.40 554.36,44.26 554.48,46.64 554.60,45.27 554.72,47.36 554.84,46.87 554.96,46.89 555.08,47.69 555.20,47.29 555.32,50.04 555.44,47.34 555.56,45.55 555.68,43.90 555.80,45.04 555.92,45.77 556.04,45.80 556.16,46.11 556.28,46.60 556.40,48.27 556.52,46.10 556.64,48.42 556.76,48.04 556.88,45.41 557.00,46.70 557.12,46.02 557.24,45.55 557.36,45.43 557.48,47.69 557.60,44.15 557.72,46.36 557.84,45.89 557.96,46.52 558.08,45.25 558.20,45.93 558.32,46.84 558.44,47.31 558.56,47.71 558.68,47.45 558.80,45.33 558.92,45.83 559.04,46.28 559.16,45.80 559.28,49.61 559.40,48.55 559.52,47.42 559.64,44.24 559.76,45.68 559.88,46.24 560.00,46.85 560.12,46.62 560.24,48.18 560.36,46.92 560.48,46.85 560.60,45.70 560.72,47.46 560.84,44.80 560.96,46.89 561.08,45.29 561.20,46.64 561.32,47.37 561.44,46.41 561.56,47.06 561.68,46.85 561.80,45.61 561.92,46.42 562.04,48.74 562.16,44.97 562.28,46.29 562.40,46.85 562.52,46.75 562.64,46.28 562.76,49.20 562.88,45.89 563.00,45.59 563.12,45.42 563.24,46.86 563.36,47.13 563.48,45.81 563.60,46.96 563.72,46.93 563.84,44.90 563.96,48.68 564.08,47.97 564.20,46.09 564.32,45.99 564.44,45.38 564.56,45.48 564.68,46.43 564.80,45.23 564.92,47.92 565.04,47.98 565.16,47.10 565.28,46.39 565.40,47.26 565.52,47.76 565.64,46.36 565.76,44.68 565.88,47.11 566.00,47.45 566.12,44.90 566.24,48.91 566.36,45.67 566.48,47.04 566.60,46.05 566.72,45.02 566.84,46.55 566.96,47.80 567.08,44.73 567.20,46.65 567.32,46.27 567.44,49.24 567.56,47.63 567.68,43.77 567.80,47.05 567.92,45.85 568.04,47.13 568.16,48.04 568.28,46.14 568.40,48.09 568.52,58.02 568.64,64.40 568.76,67.28 568.88,64.77 569.00,63.60 569.12,62.09 569.24,60.49 569.36,60.83 569.48,58.31 569.60,57.09 569.72,54.63 569.84,53.58 569.96,54.43 570.08,53.21 570.20,54.08 570.32,50.62 570.44,50.55 570.56,52.58 570.68,50.76 570.80,48.85 570.92,50.81 571.04,50.24 571.16,46.93 571.28,47.60 571.40,46.83 571.52,49.34 571.64,47.72 571.76,47.15 571.88,46.96 572.00,47.81 572.12,45.30 572.24,47.60 572.36,46.36 572.48,45.63 572.60,46.37 572.72,47.52 572.84,44.89 572.96,46.51 573.08,47.90 573.20,47.07 573.32,46.62 573.44,45.69 573.56,47.95 573.68,46.60 573.80,44.09 573.92,45.72 574.04,45.31 574.16,47.30 574.28,45.97 574.40,46.67 574.52,47.16 574.64,45.99 574.76,44.14 574.88,46.13 575.00,46.74 575.12,45.43 575.24,46.03 575.36,45.95 575.48,46.63 575.60,44.28 575.72,47.24 575.84,48.31 575.96,44.66 576.08,46.56 576.20,46.36 576.32,45.50 576.44,47.11 576.56,46.26 576.68,46.71 576.80,46.49 576.92,45.19 577.04,46.95 577.16,44.73 577.28,49.24 577.40,51.13 577.52,47.44 577.64,55.86 577.76,59.59 577.88,64.18 578.00,61.01 578.12,58.63 578.24,60.01 578.36,58.86 578.48,58.05 578.60,52.25 578.72,56.29 578.84,54.17 578.96,52.45 579.08,48.57 579.20,51.61 579.32,49.86 579.44,50.34 579.56,50.16 579.68,48.41 579.80,50.90 579.92,50.43 580.04,49.26 580.16,48.86 580.28,45.84 580.40,47.04 580.52,50.11 580.64,47.18 580.76,48.08 580.88,50.01 581.00,47.31 581.12,47.52 581.24,48.78 581.36,46.84 581.48,47.92 581.60,46.40 581.72,48.24 581.84,48.08 581.96,46.79 582.08,46.92 582.20,46.79 582.32,46.78 582.44,48.07 582.56,47.03 582.68,48.09 582.80,46.36 582.92,47.58 583.04,46.55 583.16,47.57 583.28,45.50 583.40,47.27 583.52,46.51 583.64,46.10 583.76,44.97 583.88,44.83 584.00,44.76 584.12,49.16 584.24,45.56 584.36,45.60 584.48,49.22 584.60,47.61 584.72,45.59 584.84,46.98 584.96,45.76 585.08,46.47 585.20,48.18 585.32,47.02 585.44,46.87 585.56,46.07 585.68,45.95 585.80,46.31 585.92,45.81 586.04,47.15 586.16,43.86 586.28,46.72 586.40,46.05 586.52,45.26 586.64,45.87 586.76,44.74 586.88,47.26 587.00,46.09 587.12,45.90 587.24,45.87 587.36,45.44 587.48,45.34 587.60,47.25 587.72,44.40 587.84,46.09 587.96,46.98 588.08,45.33 588.20,46.94 588.32,46.62 588.44,46.57 588.56,45.58 588.68,47.03 588.80,45.55 588.92,45.64 589.04,47.26 589.16,44.35 589.28,45.79 589.40,50.39 589.52,47.84 589.64,47.19 589.76,46.53 589.88,45.51 590.00,48.02 590.12,48.59 590.24,44.94 590.36,44.61 590.48,43.87 590.60,43.81 590.72,46.03 590.84,49.20 590.96,48.04 591.08,46.02 591.20,45.48 591.32,47.90 591.44,45.14 591.56,45.37 591.68,48.76 591.80,46.13 591.92,46.96 592.04,46.51 592.16,46.03 592.28,47.01 592.40,47.28 592.52,45.83 592.64,48.14 592.76,46.16 592.88,47.03 593.00,48.03 593.12,44.34 593.24,45.94 593.36,48.48 593.48,46.41 593.60,46.06 593.72,45.30 593.84,46.92 593.96,54.87 594.08,71.74 594.20,80.27 594.32,82.79 594.44,84.09 594.56,81.14 594.68,79.08 594.80,76.47 594.92,74.39 595.04,72.93 595.16,67.93 595.28,67.67 595.40,63.89 595.52,64.06 595.64,60.83 595.76,58.72 595.88,59.66 596.00,56.97 596.12,53.27 596.24,55.73 596.36,53.93 596.48,53.58 596.60,52.44 596.72,50.19 596.84,50.69 596.96,53.23 597.08,52.96 597.20,48.75 597.32,49.72 597.44,49.41 597.56,48.82 597.68,50.65 597.80,47.57 597.92,50.33 598.04,48.47 598.16,49.21 598.28,48.24 598.40,46.46 598.52,49.52 598.64,47.59 598.76,46.36 598.88,46.13 599.00,46.07 599.12,49.41 599.24,45.42 599.36,47.54 599.48,47.67 599.60,45.43 599.72,45.36 599.84,48.47 599.96,45.11 600.08,47.70 600.20,47.73 600.32,45.54 600.44,49.61 600.56,45.18 600.68,46.72 600.80,47.77 600.92,46.68 601.04,45.78 601.16,46.84 601.28,46.12 601.40,47.12 601.52,46.20 601.64,45.07 601.76,46.00 601.88,47.65 602.00,46.29 602.12,45.53 602.24,46.41 602.36,45.67 602.48,48.59 602.60,45.24 602.72,45.22 602.84,45.51 602.96,45.34 603.08,46.30 603.20,46.09 603.32,47.35 603.44,43.61 603.56,43.05 603.68,46.30 603.80,48.09 603.92,47.47 604.04,46.23 604.16,46.36 604.28,45.65 604.40,46.49 604.52,44.70 604.64,46.59 604.76,46.82 604.88,45.48 605.00,47.72 605.12,45.47 605.24,46.25 605.36,46.34 605.48,45.39 605.60,45.76 605.72,48.26 605.84,47.38 605.96,45.10 606.08,46.26 606.20,46.78 606.32,46.27 606.44,47.41 606.56,46.64 606.68,45.69 606.80,46.49 606.92,46.48 607.04,44.25 607.16,45.19 607.28,45.92 607.40,43.21 607.52,46.82 607.64,44.90 607.76,46.78 607.88,45.14 608.00,46.55 608.12,45.42 608.24,47.50 608.36,45.47 608.48,46.97 608.60,47.16 608.72,45.12 608.84,46.30 608.96,45.97 609.08,46.61 609.20,46.18 609.32,46.27 609.44,46.62 609.56,46.38 609.68,47.12 609.80,46.53 609.92,48.84 610.04,46.08 610.16,49.26 610.28,49.28 610.40,47.89 610.52,47.11 610.64,50.16 610.76,49.41 610.88,50.03 611.00,47.45 611.12,50.42 611.24,47.66 611.36,49.03 611.48,47.70 611.60,49.03 611.72,49.30 611.84,47.70 611.96,50.34 612.08,49.72 612.20,50.13 612.32,47.60 612.44,49.30 612.56,48.29 612.68,47.69 612.80,47.72 612.92,49.57 613.04,46.60 613.16,44.98 613.28,47.16 613.40,44.67 613.52,46.78 613.64,45.32 613.76,46.90 613.88,47.15 614.00,46.38 614.12,48.43 614.24,47.32 614.36,46.37 614.48,47.70 614.60,46.28 614.72,47.50 614.84,45.11 614.96,46.99 615.08,47.20 615.20,46.53 615.32,44.88 615.44,49.60 615.56,47.91 615.68,47.77 615.80,46.67 615.92,45.39 616.04,46.65 616.16,47.01 616.28,49.61 616.40,46.11 616.52,46.46 616.64,45.10 616.76,46.65 616.88,46.82 617.00,49.30 617.12,45.70 617.24,45.08 617.36,44.87 617.48,45.53 617.60,44.96 617.72,44.43 617.84,50.00 617.96,43.72 618.08,47.50 618.20,43.66 618.32,45.95 618.44,48.11 618.56,46.72 618.68,45.33 618.80,43.98 618.92,48.91 619.04,47.41 619.16,45.66 619.28,46.71 619.40,47.35 619.52,47.61 619.64,45.99 619.76,49.33 619.88,46.16 620.00,45.91 620.12,46.99 620.24,45.51 620.36,47.32 620.48,47.67 620.60,48.33 620.72,48.13 620.84,44.19 620.96,44.52 621.08,47.36 621.20,47.06 621.32,48.14 621.44,45.45 621.56,47.11 621.68,45.58 621.80,46.18 621.92,47.45 622.04,46.72 622.16,48.16 622.28,47.31 622.40,46.39 622.52,47.02 622.64,45.64 622.76,47.56 622.88,45.66 623.00,46.90 623.12,42.30 623.24,46.57 623.36,43.31 623.48,48.00 623.60,44.52 623.72,46.12 623.84,44.92 623.96,47.56 624.08,46.28 624.20,44.21 624.32,46.02 624.44,45.58 624.56,47.48 624.68,48.29 624.80,45.32 624.92,47.12 625.04,45.45 625.16,46.32 625.28,46.89 625.40,48.70 625.52,43.12 625.64,48.22 625.76,45.40 625.88,45.10 626.00,45.29 626.12,47.14 626.24,47.45 626.36,46.51 626.48,47.67 626.60,48.26 626.72,45.81 626.84,47.12 626.96,46.36 627.08,44.97 627.20,47.66 627.32,44.66 627.44,44.26 627.56,46.57 627.68,44.88 627.80,44.25 627.92,44.26 628.04,47.30 628.16,44.79 628.28,45.06 628.40,47.43 628.52,46.00 628.64,46.66 628.76,44.91 628.88,46.16 629.00,47.17 629.12,47.21 629.24,47.26 629.36,46.04 629.48,48.02 629.60,47.51 629.72,45.81 629.84,46.88 629.96,45.90 630.08,45.32 630.20,45.82 630.32,46.23 630.44,46.75 630.56,47.16 630.68,46.78 630.80,45.35 630.92,46.45 631.04,44.61 631.16,45.71 631.28,44.41 631.40,44.96 631.52,46.64 631.64,47.81 631.76,44.15 631.88,45.60 632.00,45.65 632.12,45.24 632.24,42.66 632.36,44.65 632.48,49.38 632.60,46.39 632.72,45.91 632.84,45.00 632.96,45.88 633.08,43.43 633.20,47.39 633.32,44.39 633.44,44.79 633.56,46.91 633.68,45.46 633.80,44.97 633.92,45.25 634.04,43.42 634.16,45.06 634.28,45.64 634.40,46.55 634.52,46.17 634.64,47.15 634.76,44.51 634.88,45.11 635.00,43.60 635.12,47.60 635.24,45.99 635.36,44.12 635.48,46.56 635.60,45.90 635.72,45.64 635.84,45.63 635.96,46.57 636.08,46.92 636.20,45.08 636.32,46.26 636.44,44.97 636.56,47.38 636.68,45.78 636.80,43.29 636.92,44.42 637.04,46.75 637.16,43.88 637.28,45.45 637.40,46.29 637.52,45.50 637.64,46.88 637.76,44.81 637.88,46.35 638.00,47.14 638.12,44.72 638.24,44.98 638.36,47.67 638.48,47.80 638.60,45.48 638.72,45.97 638.84,46.00 638.96,48.24 639.08,46.07 639.20,47.45 639.32,46.97 639.44,45.21 639.56,47.41 639.68,47.07 639.80,46.19 639.92,46.40 640.04,47.65 640.16,47.03 640.28,47.91 640.40,44.58 640.52,46.49 640.64,46.64 640.76,44.98 640.88,45.09 641.00,48.82 641.12,46.79 641.24,46.81 641.36,45.51 641.48,45.50 641.60,46.73 641.72,44.76 641.84,47.59 641.96,46.38 642.08,48.02 642.20,55.98 642.32,63.42 642.44,63.17 642.56,64.10 642.68,63.83 642.80,65.49 642.92,59.55 643.04,58.35 643.16,57.74 643.28,55.50 643.40,55.95 643.52,53.85 643.64,53.68 643.76,52.19 643.88,51.05 644.00,51.55 644.12,49.30 644.24,49.59 644.36,51.09 644.48,48.66 644.60,49.07 644.72,47.56 644.84,49.94 644.96,49.14 645.08,49.34 645.20,48.73 645.32,48.21 645.44,48.20 645.56,47.77 645.68,45.62 645.80,47.13 645.92,47.42 646.04,47.56 646.16,48.36 646.28,47.04 646.40,48.06 646.52,46.33 646.64,45.86 646.76,46.06 646.88,48.35 647.00,47.29 647.12,48.10 647.24,44.22 647.36,47.65 647.48,49.61 647.60,47.19 647.72,48.42 647.84,45.82 647.96,45.57 648.08,45.36 648.20,46.56 648.32,47.79 648.44,45.15 648.56,45.10 648.68,47.07 648.80,47.59 648.92,50.61 649.04,47.94 649.16,47.65 649.28,44.80 649.40,47.04 649.52,48.03 649.64,44.28 649.76,44.88 649.88,49.62 650.00,47.48 650.12,46.31 650.24,45.46 650.36,45.52 650.48,47.08 650.60,45.74 650.72,47.49 650.84,45.27 650.96,46.74 651.08,47.36 651.20,46.47 651.32,47.02 651.44,47.94 651.56,54.22 651.68,59.63 651.80,61.57 651.92,63.45 652.04,63.47 652.16,62.06 652.28,59.88 652.40,60.19 652.52,58.45 652.64,56.42 652.76,56.78 652.88,54.71 653.00,51.45 653.12,50.57 653.24,51.49 653.36,52.20 653.48,50.08 653.60,47.09 653.72,47.74 653.84,48.92 653.96,48.81 654.08,46.07 654.20,47.49 654.32,48.60 654.44,47.70 654.56,47.60 654.68,45.00 654.80,49.05 654.92,46.55 655.04,46.89 655.16,48.96 655.28,45.63 655.40,46.42 655.52,47.31 655.64,46.03 655.76,45.90 655.88,46.45 656.00,48.33 656.12,47.07 656.24,46.53 656.36,45.46 656.48,47.43 656.60,47.20 656.72,44.61 656.84,46.83 656.96,47.19 657.08,45.36 657.20,46.48 657.32,47.55 657.44,44.72 657.56,46.87 657.68,48.74 657.80,46.91 657.92,46.45 658.04,46.14 658.16,46.40 658.28,48.15 658.40,45.43 658.52,47.90 658.64,44.98 658.76,45.32 658.88,45.54 659.00,47.06 659.12,46.06 659.24,49.09 659.36,47.38 659.48,43.47 659.60,47.06 659.72,46.60 659.84,45.22 659.96,46.64 660.08,47.61 660.20,46.49 660.32,45.07 660.44,45.17 660.56,47.05 660.68,47.77 660.80,48.95 660.92,46.72 661.04,46.02 661.16,46.82 661.28,47.38 661.40,45.24 661.52,45.96 661.64,46.69 661.76,47.84 661.88,45.68 662.00,46.86 662.12,49.21 662.24,45.67 662.36,46.03 662.48,46.65 662.60,45.83 662.72,48.78 662.84,44.78 662.96,47.67 663.08,42.07 663.20,44.68 663.32,47.15 663.44,48.37 663.56,45.72 663.68,47.58 663.80,44.81" fill="none" stroke="#ee8a2a" stroke-width="0.9" stroke-linejoin="round"/>
<line x1="631.70" y1="61.70" x2="631.70" y2="87.50" stroke="#222" stroke-width="1.7" stroke-linecap="butt"/>
<line x1="630.85" y1="87.50" x2="663.20" y2="87.50" stroke="#222" stroke-width="1.7" stroke-linecap="butt"/>
<text x="636" y="75.8" font-size="10.3" font-weight="bold" text-anchor="start" fill="#0a0a0a" letter-spacing="-0.1" stroke="#0a0a0a" stroke-width="0.15">20 pA</text>
<text x="631.6" y="99.4" font-size="10.3" font-weight="bold" text-anchor="start" fill="#0a0a0a" letter-spacing="-0.1" stroke="#0a0a0a" stroke-width="0.15">400 ms</text>
<text x="44.4" y="697" font-size="12.3" font-weight="bold" text-anchor="start" fill="#a6a6a6" letter-spacing="1.3" stroke="#a6a6a6" stroke-width="0.15">Baseline</text>
<text x="41.7" y="798.8" font-size="12.3" font-weight="bold" text-anchor="start" fill="#f08021" letter-spacing="1.4" stroke="#f08021" stroke-width="0.15">CNO</text>
<line x1="59.50" y1="701.50" x2="59.50" y2="783.50" stroke="#a6a6a6" stroke-width="0.9" stroke-linecap="butt"/>
<line x1="166.60" y1="701.50" x2="166.60" y2="782.50" stroke="#a6a6a6" stroke-width="0.9" stroke-linecap="butt"/>
<polyline points="45.4,711.4 59.2,711.4" fill="none" stroke="#a6a6a6" stroke-width="0.75"/>
<path d="M59.60,702.00 C59.70,701.92 59.92,700.62 60.20,701.50 C60.48,702.38 60.92,706.83 61.30,707.30 C61.68,707.77 62.15,704.75 62.50,704.30 C62.85,703.85 63.10,704.15 63.40,704.60 C63.70,705.05 64.00,703.60 64.30,707.00 C64.60,710.40 64.88,718.67 65.20,725.00 C65.52,731.33 65.87,739.53 66.20,745.00 C66.53,750.47 66.82,756.13 67.20,757.80 C67.58,759.47 68.15,756.12 68.50,755.00 C68.85,753.88 68.68,753.70 69.30,751.10 C69.92,748.50 71.13,743.00 72.20,739.40 C73.27,735.80 74.53,732.23 75.70,729.50 C76.87,726.77 77.83,724.85 79.20,723.00 C80.57,721.15 82.10,719.72 83.90,718.40 C85.70,717.08 87.98,715.87 90.00,715.10 C92.02,714.33 93.67,714.17 96.00,713.80 C98.33,713.43 101.27,713.15 104.00,712.90 C106.73,712.65 108.90,712.48 112.40,712.30 C115.90,712.12 120.40,711.93 125.00,711.80 C129.60,711.67 133.10,711.55 140.00,711.50 C146.90,711.45 162.00,711.50 166.40,711.50" fill="none" stroke="#a6a6a6" stroke-width="0.7"/>
<path d="M166.70,702.00 C166.82,701.93 167.13,700.97 167.40,701.60 C167.67,702.23 167.95,705.30 168.30,705.80 C168.65,706.30 169.10,704.70 169.50,704.60 C169.90,704.50 170.32,703.97 170.70,705.20 C171.08,706.43 171.42,706.20 171.80,712.00 C172.18,717.80 172.60,730.33 173.00,740.00 C173.40,749.67 173.83,762.57 174.20,770.00 C174.57,777.43 174.82,782.77 175.20,784.60 C175.58,786.43 176.03,783.10 176.50,781.00 C176.97,778.90 177.43,775.17 178.00,772.00 C178.57,768.83 179.18,765.83 179.90,762.00 C180.62,758.17 181.45,753.10 182.30,749.00 C183.15,744.90 184.05,740.57 185.00,737.40 C185.95,734.23 186.98,732.03 188.00,730.00 C189.02,727.97 189.77,726.87 191.10,725.20 C192.43,723.53 194.30,721.53 196.00,720.00 C197.70,718.47 199.47,716.97 201.30,716.00 C203.13,715.03 204.95,714.65 207.00,714.20 C209.05,713.75 211.10,713.50 213.60,713.30 C216.10,713.10 218.93,713.07 222.00,713.00 C225.07,712.93 228.17,713.00 232.00,712.90 C235.83,712.80 240.23,712.57 245.00,712.40 C249.77,712.23 258.00,711.98 260.60,711.90" fill="none" stroke="#a6a6a6" stroke-width="0.7"/>
<line x1="58.30" y1="801.50" x2="58.30" y2="868.90" stroke="#e9a04a" stroke-width="0.9" stroke-linecap="butt"/>
<line x1="159.40" y1="801.50" x2="159.40" y2="866.90" stroke="#e9a04a" stroke-width="0.9" stroke-linecap="butt"/>
<polyline points="45.4,807.6 58.1,807.6" fill="none" stroke="#e9a04a" stroke-width="0.75"/>
<path d="M58.40,802.50 C58.53,802.38 58.90,801.22 59.20,801.80 C59.50,802.38 59.85,805.77 60.20,806.00 C60.55,806.23 60.95,803.62 61.30,803.20 C61.65,802.78 61.98,802.87 62.30,803.50 C62.62,804.13 62.88,802.58 63.20,807.00 C63.52,811.42 63.90,822.50 64.20,830.00 C64.50,837.50 64.73,846.53 65.00,852.00 C65.27,857.47 65.47,861.22 65.80,862.80 C66.13,864.38 66.60,862.63 67.00,861.50 C67.40,860.37 67.62,859.37 68.20,856.00 C68.78,852.63 69.62,845.30 70.50,841.30 C71.38,837.30 72.30,834.72 73.50,832.00 C74.70,829.28 76.37,827.08 77.70,825.00 C79.03,822.92 80.15,821.03 81.50,819.50 C82.85,817.97 84.22,816.95 85.80,815.80 C87.38,814.65 88.95,813.45 91.00,812.60 C93.05,811.75 95.60,811.23 98.10,810.70 C100.60,810.17 103.28,809.75 106.00,809.40 C108.72,809.05 111.23,808.78 114.40,808.60 C117.57,808.42 120.73,808.37 125.00,808.30 C129.27,808.23 134.30,808.23 140.00,808.20 C145.70,808.17 156.00,808.12 159.20,808.10" fill="none" stroke="#e9a04a" stroke-width="0.7"/>
<path d="M159.50,802.50 C159.63,802.35 160.00,801.10 160.30,801.60 C160.60,802.10 160.97,805.30 161.30,805.50 C161.63,805.70 161.97,803.17 162.30,802.80 C162.63,802.43 162.95,802.43 163.30,803.30 C163.65,804.17 164.03,802.72 164.40,808.00 C164.77,813.28 165.13,826.00 165.50,835.00 C165.87,844.00 166.25,855.33 166.60,862.00 C166.95,868.67 167.23,873.25 167.60,875.00 C167.97,876.75 168.37,874.33 168.80,872.50 C169.23,870.67 169.72,866.82 170.20,864.00 C170.68,861.18 171.07,858.77 171.70,855.60 C172.33,852.43 173.15,848.07 174.00,845.00 C174.85,841.93 175.72,839.95 176.80,837.20 C177.88,834.45 179.13,831.22 180.50,828.50 C181.87,825.78 183.42,822.98 185.00,820.90 C186.58,818.82 188.30,817.37 190.00,816.00 C191.70,814.63 193.20,813.57 195.20,812.70 C197.20,811.83 199.28,811.32 202.00,810.80 C204.72,810.28 207.67,809.90 211.50,809.60 C215.33,809.30 219.03,809.17 225.00,809.00 C230.97,808.83 243.58,808.67 247.30,808.60" fill="none" stroke="#e9a04a" stroke-width="0.7"/>
<line x1="202.90" y1="832.10" x2="202.90" y2="851.90" stroke="#2a2323" stroke-width="1.8" stroke-linecap="butt"/>
<line x1="202.05" y1="851.90" x2="242.60" y2="851.90" stroke="#2a2323" stroke-width="1.8" stroke-linecap="butt"/>
<text x="212" y="845.3" font-size="10.5" font-weight="bold" text-anchor="start" fill="#2a2323" letter-spacing="0.3" stroke="#2a2323" stroke-width="0.15">40 pA</text>
<text x="211.5" y="870.2" font-size="10.3" font-weight="bold" text-anchor="start" fill="#2a2323" letter-spacing="0.1" stroke="#2a2323" stroke-width="0.15">20 ms</text>
<text x="41.2" y="985.2" font-size="9.5" font-weight="bold" text-anchor="start" fill="#2b2424" letter-spacing="0.2" stroke="#2b2424" stroke-width="0.15">D0</text>
<text x="169.7" y="985.2" font-size="9.5" font-weight="bold" text-anchor="start" fill="#2b2424" letter-spacing="0.2" stroke="#2b2424" stroke-width="0.15">D14</text>
<text x="205.2" y="989.9" font-size="9.5" font-weight="bold" text-anchor="start" fill="#2b2424" letter-spacing="0.2" stroke="#2b2424" stroke-width="0.15">1h</text>
<line x1="47.90" y1="988.50" x2="47.90" y2="1011.00" stroke="#2b2424" stroke-width="1.4" stroke-linecap="butt"/>
<line x1="175.80" y1="988.50" x2="175.80" y2="1011.00" stroke="#2b2424" stroke-width="1.4" stroke-linecap="butt"/>
<line x1="240.50" y1="988.50" x2="240.50" y2="1011.00" stroke="#2b2424" stroke-width="1.4" stroke-linecap="butt"/>
<line x1="47.90" y1="999.90" x2="240.50" y2="999.90" stroke="#2b2424" stroke-width="1.4" stroke-linecap="butt"/>
<path d="M47.9,1011.6 L43.6,1019.4 L52.199999999999996,1019.4 Z" fill="#2b2424"/>
<line x1="47.90" y1="1019.00" x2="47.90" y2="1022.30" stroke="#2b2424" stroke-width="1.0" stroke-linecap="butt"/>
<path d="M175.8,1011.6 L171.5,1019.4 L180.10000000000002,1019.4 Z" fill="#2b2424"/>
<line x1="175.80" y1="1019.00" x2="175.80" y2="1022.30" stroke="#2b2424" stroke-width="1.0" stroke-linecap="butt"/>
<path d="M240.5,1011.6 L236.2,1019.4 L244.8,1019.4 Z" fill="#2b2424"/>
<line x1="240.50" y1="1019.00" x2="240.50" y2="1022.30" stroke="#2b2424" stroke-width="1.0" stroke-linecap="butt"/>
<text x="50.2" y="1032.9" font-size="9.7" font-weight="bold" text-anchor="middle" fill="#2b2424" letter-spacing="0.55" stroke="#2b2424" stroke-width="0.15">Behavior test</text>
<text x="49.8" y="1044.3" font-size="10.5" font-weight="bold" text-anchor="middle" fill="#2b2424" letter-spacing="0.3" stroke="#2b2424" stroke-width="0.15">CCI</text>
<text x="175.4" y="1031.9" font-size="9.7" font-weight="bold" text-anchor="middle" fill="#2b2424" letter-spacing="0.55" stroke="#2b2424" stroke-width="0.15">Behavior test</text>
<text x="246.8" y="1031.9" font-size="9.7" font-weight="bold" text-anchor="middle" fill="#2b2424" letter-spacing="0.55" stroke="#2b2424" stroke-width="0.15">Behavior test</text>
<text x="134.3" y="1142.3" font-size="12.8" font-weight="bold" text-anchor="middle" fill="#2b2424" letter-spacing="0.7" stroke="#2b2424" stroke-width="0.15">i.p. CNO</text>
<path d="M178.40,1059.00 C177.20,1059.68 173.25,1061.07 171.20,1063.10 C169.15,1065.13 167.27,1068.52 166.10,1071.20 C164.93,1073.88 164.38,1076.53 164.20,1079.20 C164.02,1081.87 164.33,1085.15 165.00,1087.20 C165.67,1089.25 166.93,1089.92 168.20,1091.50 C169.47,1093.08 171.20,1094.82 172.60,1096.70 C174.00,1098.58 175.72,1100.85 176.60,1102.80 C177.48,1104.75 178.13,1106.60 177.90,1108.40 C177.67,1110.20 175.65,1112.73 175.20,1113.60 L174.60,1112.60 C174.77,1112.10 175.38,1111.20 175.60,1109.60 C175.82,1108.00 176.37,1105.23 175.90,1103.00 C175.43,1100.77 174.02,1098.60 172.80,1096.20 C171.58,1093.80 169.50,1091.07 168.60,1088.60 C167.70,1086.13 167.40,1083.63 167.40,1081.40 C167.40,1079.17 167.85,1077.23 168.60,1075.20 C169.35,1073.17 170.33,1070.77 171.90,1069.20 C173.47,1067.63 176.98,1066.37 178.00,1065.80 Z" fill="#a9a9a9" stroke="#262626" stroke-width="0.85" stroke-linejoin="round"/>
<path d="M175.50,1061.50 C174.50,1062.25 171.08,1063.75 169.50,1066.00 C167.92,1068.25 166.55,1071.83 166.00,1075.00 C165.45,1078.17 165.53,1082.00 166.20,1085.00 C166.87,1088.00 168.62,1090.50 170.00,1093.00 C171.38,1095.50 173.42,1097.83 174.50,1100.00 C175.58,1102.17 176.17,1105.00 176.50,1106.00" fill="none" stroke="#e0e0e0" stroke-width="0.9"/>
<path d="M178.20,1067.70 C178.60,1065.50 179.05,1058.35 180.60,1054.50 C182.15,1050.65 184.40,1047.07 187.50,1044.60 C190.60,1042.13 195.12,1040.47 199.20,1039.70 C203.28,1038.93 207.72,1038.45 212.00,1040.00 C216.28,1041.55 221.48,1046.25 224.90,1049.00 C228.32,1051.75 230.38,1054.17 232.50,1056.50 C234.62,1058.83 236.28,1060.95 237.60,1063.00 C238.92,1065.05 240.27,1066.77 240.40,1068.80 C240.53,1070.83 239.80,1073.13 238.40,1075.20 C237.00,1077.27 234.40,1079.40 232.00,1081.20 C229.60,1083.00 227.33,1084.17 224.00,1086.00 C220.67,1087.83 216.00,1091.20 212.00,1092.20 C208.00,1093.20 203.67,1092.73 200.00,1092.00 C196.33,1091.27 192.92,1089.83 190.00,1087.80 C187.08,1085.77 184.47,1083.15 182.50,1079.80 C180.53,1076.45 178.92,1069.72 178.20,1067.70 Z" fill="#cdcdcd" stroke="#262626" stroke-width="0.95"/>
<path d="M211.2,1062.6 C204.2,1061.2 201.4,1056 202.0,1050.8 C202.8,1043.2 208.8,1038.4 215.2,1038.7 C220.4,1039 223.8,1042.6 225.2,1048.2 C222,1054 217,1059 211.2,1062.6 Z" fill="#d3d3d3"/>
<path d="M210.2,1061.2 C204.6,1059.4 203.0,1053.4 204.2,1048.4 C205.6,1043.4 209.4,1040.6 213.6,1040.0 C208.8,1043.6 206.6,1048.8 207.4,1053.8 C207.9,1057 209,1059.6 210.2,1061.2 Z" fill="#9b9b9b"/>
<path d="M211.2,1062.6 C204.2,1061.2 201.4,1056 202.0,1050.8 C202.8,1043.2 208.8,1038.4 215.2,1038.7 C220.4,1039 223.8,1042.6 225.2,1048.2" fill="none" stroke="#262626" stroke-width="0.95"/>
<path d="M211.8,1072.4 C204.2,1072.2 198.6,1077.4 197.6,1084.2 C197.0,1090.4 201.2,1095.4 208.6,1095.8 C213.4,1096 217.8,1093 220.4,1086.4 C218,1080 215,1075.5 211.8,1072.4 Z" fill="#d3d3d3"/>
<path d="M210.6,1073.8 C204.6,1075.2 200.4,1079.6 199.8,1085.2 C199.4,1089.8 202.0,1093.4 206.4,1094.6 C203.0,1090 203.0,1083 205.4,1079 C206.8,1076.6 208.6,1075 210.6,1073.8 Z" fill="#9b9b9b"/>
<path d="M211.8,1072.4 C204.2,1072.2 198.6,1077.4 197.6,1084.2 C197.0,1090.4 201.2,1095.4 208.6,1095.8 C213.4,1096 217.8,1093 220.4,1086.4" fill="none" stroke="#262626" stroke-width="0.95"/>
<ellipse cx="227.3" cy="1062.4" rx="2.0" ry="1.75" fill="#111"/>
<ellipse cx="226.8" cy="1062.0" rx="0.6" ry="0.5" fill="#fff"/>
<ellipse cx="225.2" cy="1075.9" rx="2.0" ry="1.75" fill="#111"/>
<ellipse cx="224.7" cy="1075.5" rx="0.6" ry="0.5" fill="#fff"/>
<path d="M234.6,1069.6 C234.8,1067.2 236.6,1066.4 238.6,1067.4 C239.6,1069 239.2,1071.6 237.4,1072.6 C235.6,1072.8 234.6,1071.4 234.6,1069.6 Z" fill="#111"/>
<path d="M233.8,1061.5 C236.5,1063.5 238.8,1066 240.2,1068.6 M233.4,1078 C236,1076.8 238.2,1074.5 239.6,1072" fill="none" stroke="#333" stroke-width="1.1"/>
<path d="M234.60,1062.40 C234.70,1061.17 234.73,1057.30 235.20,1055.00 C235.67,1052.70 237.03,1049.67 237.40,1048.60" fill="none" stroke="#262626" stroke-width="0.7"/>
<path d="M235.40,1062.80 C235.90,1061.58 237.20,1057.43 238.40,1055.50 C239.60,1053.57 241.90,1051.92 242.60,1051.20" fill="none" stroke="#262626" stroke-width="0.7"/>
<path d="M236.20,1063.60 C236.97,1062.92 239.13,1060.53 240.80,1059.50 C242.47,1058.47 245.30,1057.75 246.20,1057.40" fill="none" stroke="#262626" stroke-width="0.7"/>
<path d="M233.80,1077.60 C233.47,1078.75 232.33,1082.23 231.80,1084.50 C231.27,1086.77 230.80,1090.08 230.60,1091.20" fill="none" stroke="#262626" stroke-width="0.7"/>
<path d="M234.60,1077.40 C234.63,1078.50 234.63,1081.87 234.80,1084.00 C234.97,1086.13 235.47,1089.17 235.60,1090.20" fill="none" stroke="#262626" stroke-width="0.7"/>
<path d="M235.60,1076.80 C236.07,1077.58 237.40,1080.07 238.40,1081.50 C239.40,1082.93 241.07,1084.75 241.60,1085.40" fill="none" stroke="#262626" stroke-width="0.7"/>
<g transform="translate(106.4,1115.8) rotate(-22.5)">
<rect x="-21.5" y="-2.3" width="19" height="4.6" fill="#dcdff0" stroke="#262626" stroke-width="0.7"/>
<ellipse cx="-22.2" cy="0" rx="2.9" ry="6.2" fill="#dcdff0" stroke="#2a3350" stroke-width="0.8"/>
<path d="M-20.8,-5.6 A2.9,6.2 0 0 1 -20.8,5.6" fill="none" stroke="#2a3350" stroke-width="1.4"/>
<ellipse cx="-3.4" cy="0" rx="2.6" ry="7.2" fill="#dcdff0" stroke="#2a3350" stroke-width="0.8"/>
<path d="M-2.0,-6.6 A2.6,7.2 0 0 1 -2.0,6.6" fill="none" stroke="#2a3350" stroke-width="1.4"/>
<rect x="-1" y="-3.5" width="66" height="7.0" fill="#dcdff0" stroke="#262626" stroke-width="0.85"/>
<line x1="21.00" y1="0.4" x2="21.30" y2="3.0" stroke="#333" stroke-width="0.55"/>
<line x1="23.45" y1="0.4" x2="23.75" y2="3.0" stroke="#333" stroke-width="0.55"/>
<line x1="25.90" y1="0.4" x2="26.20" y2="3.0" stroke="#333" stroke-width="0.55"/>
<line x1="28.35" y1="0.4" x2="28.65" y2="3.0" stroke="#333" stroke-width="0.55"/>
<line x1="30.80" y1="0.4" x2="31.10" y2="3.0" stroke="#333" stroke-width="0.55"/>
<line x1="33.25" y1="0.4" x2="33.55" y2="3.0" stroke="#333" stroke-width="0.55"/>
<line x1="35.70" y1="0.4" x2="36.00" y2="3.0" stroke="#333" stroke-width="0.55"/>
<line x1="38.15" y1="0.4" x2="38.45" y2="3.0" stroke="#333" stroke-width="0.55"/>
<line x1="40.60" y1="0.4" x2="40.90" y2="3.0" stroke="#333" stroke-width="0.55"/>
<line x1="43.05" y1="0.4" x2="43.35" y2="3.0" stroke="#333" stroke-width="0.55"/>
<line x1="45.50" y1="0.4" x2="45.80" y2="3.0" stroke="#333" stroke-width="0.55"/>
<line x1="47.95" y1="0.4" x2="48.25" y2="3.0" stroke="#333" stroke-width="0.55"/>
<line x1="50.40" y1="0.4" x2="50.70" y2="3.0" stroke="#333" stroke-width="0.55"/>
<line x1="52.85" y1="0.4" x2="53.15" y2="3.0" stroke="#333" stroke-width="0.55"/>
<line x1="55.30" y1="0.4" x2="55.60" y2="3.0" stroke="#333" stroke-width="0.55"/>
<line x1="57.75" y1="0.4" x2="58.05" y2="3.0" stroke="#333" stroke-width="0.55"/>
<line x1="60.20" y1="0.4" x2="60.50" y2="3.0" stroke="#333" stroke-width="0.55"/>
<line x1="62.65" y1="0.4" x2="62.95" y2="3.0" stroke="#333" stroke-width="0.55"/>
<rect x="64.5" y="-3.9" width="5" height="7.8" rx="1" fill="#0d0d0d"/>
<path d="M69.5,-3.0 L75.5,-2.6 L75.5,2.6 L69.5,3.0 Z" fill="#e2e4f2" stroke="#262626" stroke-width="0.6"/>
<path d="M75.5,-1.8 L79.6,-0.9 L79.6,0.9 L75.5,1.8 Z" fill="#3a58a8" stroke="#1c2a58" stroke-width="0.5"/>
<line x1="79.6" y1="0" x2="94" y2="-1" stroke="#8fb4da" stroke-width="0.6"/>
</g>
<line x1="348.90" y1="951.90" x2="348.90" y2="1127.80" stroke="#0a0a0a" stroke-width="1.6" stroke-linecap="butt"/>
<line x1="340.10" y1="1127.80" x2="348.90" y2="1127.80" stroke="#0a0a0a" stroke-width="1.8" stroke-linecap="butt"/>
<text x="339.5" y="1131.6" font-size="13" font-weight="bold" text-anchor="end" fill="#0a0a0a" letter-spacing="0.9" stroke="#0a0a0a" stroke-width="0.15">0</text>
<line x1="340.10" y1="1084.03" x2="348.90" y2="1084.03" stroke="#0a0a0a" stroke-width="1.8" stroke-linecap="butt"/>
<text x="339.5" y="1087.825" font-size="13" font-weight="bold" text-anchor="end" fill="#0a0a0a" letter-spacing="0.9" stroke="#0a0a0a" stroke-width="0.15">1</text>
<line x1="340.10" y1="1040.25" x2="348.90" y2="1040.25" stroke="#0a0a0a" stroke-width="1.8" stroke-linecap="butt"/>
<text x="339.5" y="1044.05" font-size="13" font-weight="bold" text-anchor="end" fill="#0a0a0a" letter-spacing="0.9" stroke="#0a0a0a" stroke-width="0.15">2</text>
<line x1="340.10" y1="996.48" x2="348.90" y2="996.48" stroke="#0a0a0a" stroke-width="1.8" stroke-linecap="butt"/>
<text x="339.5" y="1000.275" font-size="13" font-weight="bold" text-anchor="end" fill="#0a0a0a" letter-spacing="0.9" stroke="#0a0a0a" stroke-width="0.15">3</text>
<line x1="340.10" y1="952.70" x2="348.90" y2="952.70" stroke="#0a0a0a" stroke-width="1.8" stroke-linecap="butt"/>
<text x="339.5" y="956.5" font-size="13" font-weight="bold" text-anchor="end" fill="#0a0a0a" letter-spacing="0.9" stroke="#0a0a0a" stroke-width="0.15">4</text>
<line x1="348.10" y1="1127.80" x2="467.20" y2="1127.80" stroke="#0a0a0a" stroke-width="1.6" stroke-linecap="butt"/>
<line x1="372.90" y1="1127.80" x2="372.90" y2="1135.30" stroke="#0a0a0a" stroke-width="1.6" stroke-linecap="butt"/>
<line x1="408.20" y1="1127.80" x2="408.20" y2="1135.30" stroke="#0a0a0a" stroke-width="1.6" stroke-linecap="butt"/>
<line x1="443.20" y1="1127.80" x2="443.20" y2="1135.30" stroke="#0a0a0a" stroke-width="1.6" stroke-linecap="butt"/>
<line x1="373.40" y1="969.90" x2="404.30" y2="969.90" stroke="#0a0a0a" stroke-width="1.8" stroke-linecap="butt"/>
<line x1="412.00" y1="969.90" x2="442.70" y2="969.90" stroke="#0a0a0a" stroke-width="1.8" stroke-linecap="butt"/>
<text x="388.6" y="961.2" font-size="12.5" font-weight="normal" text-anchor="middle" fill="#0a0a0a" letter-spacing="0.5">ns</text>
<text x="426.9" y="961.2" font-size="12.5" font-weight="normal" text-anchor="middle" fill="#0a0a0a" letter-spacing="0.5">ns</text>
<polyline points="372.90,1039.90 408.20,990.50 443.20,1045.70" fill="none" stroke="#222" stroke-width="1.0" stroke-linejoin="round"/>
<polyline points="372.90,1063.50 408.20,1048.60 443.20,1048.60" fill="none" stroke="#222" stroke-width="1.0" stroke-linejoin="round"/>
<polyline points="372.90,1054.00 408.20,1066.40 443.20,1063.50" fill="none" stroke="#222" stroke-width="1.0" stroke-linejoin="round"/>
<polyline points="372.90,1056.90 408.20,1072.30 443.20,1057.40" fill="none" stroke="#222" stroke-width="1.0" stroke-linejoin="round"/>
<polyline points="372.90,1072.30 408.20,1083.90 443.20,1087.00" fill="none" stroke="#222" stroke-width="1.0" stroke-linejoin="round"/>
<circle cx="372.90" cy="1039.90" r="2.8" fill="#fff" stroke="#0a0a0a" stroke-width="0.9"/>
<circle cx="408.20" cy="990.50" r="2.8" fill="#7a7a7a" stroke="#0a0a0a" stroke-width="0.9"/>
<circle cx="443.20" cy="1045.70" r="2.8" fill="#46a9b9" stroke="#0a0a0a" stroke-width="0.9"/>
<circle cx="372.90" cy="1063.50" r="2.8" fill="#fff" stroke="#0a0a0a" stroke-width="0.9"/>
<circle cx="408.20" cy="1048.60" r="2.8" fill="#7a7a7a" stroke="#0a0a0a" stroke-width="0.9"/>
<circle cx="443.20" cy="1048.60" r="2.8" fill="#46a9b9" stroke="#0a0a0a" stroke-width="0.9"/>
<circle cx="372.90" cy="1054.00" r="2.8" fill="#fff" stroke="#0a0a0a" stroke-width="0.9"/>
<circle cx="408.20" cy="1066.40" r="2.8" fill="#7a7a7a" stroke="#0a0a0a" stroke-width="0.9"/>
<circle cx="443.20" cy="1063.50" r="2.8" fill="#46a9b9" stroke="#0a0a0a" stroke-width="0.9"/>
<circle cx="372.90" cy="1056.90" r="2.8" fill="#fff" stroke="#0a0a0a" stroke-width="0.9"/>
<circle cx="408.20" cy="1072.30" r="2.8" fill="#7a7a7a" stroke="#0a0a0a" stroke-width="0.9"/>
<circle cx="443.20" cy="1057.40" r="2.8" fill="#46a9b9" stroke="#0a0a0a" stroke-width="0.9"/>
<circle cx="372.90" cy="1072.30" r="2.8" fill="#fff" stroke="#0a0a0a" stroke-width="0.9"/>
<circle cx="408.20" cy="1083.90" r="2.8" fill="#7a7a7a" stroke="#0a0a0a" stroke-width="0.9"/>
<circle cx="443.20" cy="1087.00" r="2.8" fill="#46a9b9" stroke="#0a0a0a" stroke-width="0.9"/>
<text x="321" y="1047.7" font-size="13.2" font-weight="bold" text-anchor="middle" fill="#0a0a0a" letter-spacing="0.52" transform="rotate(-90 321 1047.7)" stroke="#0a0a0a" stroke-width="0.15">Mechanical withdrawal threshold (g)</text>
<text x="378.5" y="1141.7" font-size="12.8" font-weight="bold" text-anchor="end" fill="#0a0a0a" letter-spacing="0.6" transform="rotate(-45 378.5 1141.7)" stroke="#0a0a0a" stroke-width="0.15">Day 0_Sham</text>
<text x="412.4" y="1143.1" font-size="12.8" font-weight="bold" text-anchor="end" fill="#0a0a0a" letter-spacing="0.6" transform="rotate(-45 412.4 1143.1)" stroke="#0a0a0a" stroke-width="0.15">Day14_Sham</text>
<text x="447.09999999999997" y="1143.9" font-size="12.8" font-weight="bold" text-anchor="end" fill="#0a0a0a" letter-spacing="0.6" transform="rotate(-45 447.09999999999997 1143.9)" stroke="#0a0a0a" stroke-width="0.15">CNO_Sham</text>
<line x1="566.20" y1="953.10" x2="566.20" y2="1129.60" stroke="#0a0a0a" stroke-width="1.6" stroke-linecap="butt"/>
<line x1="557.40" y1="1129.60" x2="566.20" y2="1129.60" stroke="#0a0a0a" stroke-width="1.8" stroke-linecap="butt"/>
<text x="558.1" y="1134.3999999999999" font-size="13" font-weight="bold" text-anchor="end" fill="#0a0a0a" letter-spacing="0.9" stroke="#0a0a0a" stroke-width="0.15">0.0</text>
<line x1="557.40" y1="1094.46" x2="566.20" y2="1094.46" stroke="#0a0a0a" stroke-width="1.8" stroke-linecap="butt"/>
<text x="558.1" y="1099.26" font-size="13" font-weight="bold" text-anchor="end" fill="#0a0a0a" letter-spacing="0.9" stroke="#0a0a0a" stroke-width="0.15">0.5</text>
<line x1="557.40" y1="1059.32" x2="566.20" y2="1059.32" stroke="#0a0a0a" stroke-width="1.8" stroke-linecap="butt"/>
<text x="558.1" y="1064.12" font-size="13" font-weight="bold" text-anchor="end" fill="#0a0a0a" letter-spacing="0.9" stroke="#0a0a0a" stroke-width="0.15">1.0</text>
<line x1="557.40" y1="1024.18" x2="566.20" y2="1024.18" stroke="#0a0a0a" stroke-width="1.8" stroke-linecap="butt"/>
<text x="558.1" y="1028.9799999999998" font-size="13" font-weight="bold" text-anchor="end" fill="#0a0a0a" letter-spacing="0.9" stroke="#0a0a0a" stroke-width="0.15">1.5</text>
<line x1="557.40" y1="989.04" x2="566.20" y2="989.04" stroke="#0a0a0a" stroke-width="1.8" stroke-linecap="butt"/>
<text x="558.1" y="993.8399999999999" font-size="13" font-weight="bold" text-anchor="end" fill="#0a0a0a" letter-spacing="0.9" stroke="#0a0a0a" stroke-width="0.15">2.0</text>
<line x1="557.40" y1="953.90" x2="566.20" y2="953.90" stroke="#0a0a0a" stroke-width="1.8" stroke-linecap="butt"/>
<text x="558.1" y="958.6999999999999" font-size="13" font-weight="bold" text-anchor="end" fill="#0a0a0a" letter-spacing="0.9" stroke="#0a0a0a" stroke-width="0.15">2.5</text>
<line x1="565.40" y1="1129.60" x2="684.00" y2="1129.60" stroke="#0a0a0a" stroke-width="1.6" stroke-linecap="butt"/>
<line x1="589.20" y1="1129.60" x2="589.20" y2="1137.10" stroke="#0a0a0a" stroke-width="1.6" stroke-linecap="butt"/>
<line x1="624.30" y1="1129.60" x2="624.30" y2="1137.10" stroke="#0a0a0a" stroke-width="1.6" stroke-linecap="butt"/>
<line x1="659.20" y1="1129.60" x2="659.20" y2="1137.10" stroke="#0a0a0a" stroke-width="1.6" stroke-linecap="butt"/>
<line x1="589.20" y1="968.20" x2="624.30" y2="968.20" stroke="#0a0a0a" stroke-width="1.8" stroke-linecap="butt"/>
<text x="610.4" y="968.7" font-size="24" font-weight="bold" text-anchor="middle" fill="#0a0a0a" letter-spacing="3.4" stroke="#0a0a0a" stroke-width="0.15">***</text>
<line x1="625.20" y1="930.80" x2="659.00" y2="930.80" stroke="#0a0a0a" stroke-width="1.8" stroke-linecap="butt"/>
<text x="641.8" y="932.3" font-size="24" font-weight="bold" text-anchor="middle" fill="#0a0a0a" stroke="#0a0a0a" stroke-width="0.15">*</text>
<polyline points="589.20,989.20 624.30,1050.30 659.20,1087.50" fill="none" stroke="#222" stroke-width="1.0" stroke-linejoin="round"/>
<polyline points="589.20,1003.40 624.30,1078.30 659.20,1096.70" fill="none" stroke="#222" stroke-width="1.0" stroke-linejoin="round"/>
<polyline points="589.20,1017.40 624.30,1101.50 659.20,1104.20" fill="none" stroke="#222" stroke-width="1.0" stroke-linejoin="round"/>
<polyline points="589.20,1045.00 624.30,1101.50 659.20,1112.00" fill="none" stroke="#222" stroke-width="1.0" stroke-linejoin="round"/>
<polyline points="589.20,1050.30 624.30,1101.50 659.20,1125.20" fill="none" stroke="#222" stroke-width="1.0" stroke-linejoin="round"/>
<polyline points="589.20,1050.30 624.30,1078.30 659.20,1082.20" fill="none" stroke="#222" stroke-width="1.0" stroke-linejoin="round"/>
<circle cx="589.20" cy="989.20" r="2.8" fill="#fff" stroke="#444" stroke-width="0.9"/>
<circle cx="589.20" cy="1003.40" r="2.8" fill="#fff" stroke="#444" stroke-width="0.9"/>
<circle cx="589.20" cy="1017.40" r="2.8" fill="#fff" stroke="#444" stroke-width="0.9"/>
<circle cx="589.20" cy="1045.00" r="2.8" fill="#fff" stroke="#444" stroke-width="0.9"/>
<circle cx="589.20" cy="1050.30" r="2.8" fill="#fff" stroke="#444" stroke-width="0.9"/>
<circle cx="589.20" cy="1050.30" r="2.8" fill="#fff" stroke="#444" stroke-width="0.9"/>
<circle cx="624.30" cy="1050.30" r="2.9" fill="#f04646" stroke="#0a0a0a" stroke-width="0"/>
<circle cx="659.20" cy="1087.50" r="2.9" fill="#46a9b9" stroke="#0a0a0a" stroke-width="0"/>
<circle cx="624.30" cy="1078.30" r="2.9" fill="#f04646" stroke="#0a0a0a" stroke-width="0"/>
<circle cx="659.20" cy="1096.70" r="2.9" fill="#46a9b9" stroke="#0a0a0a" stroke-width="0"/>
<circle cx="624.30" cy="1101.50" r="2.9" fill="#f04646" stroke="#0a0a0a" stroke-width="0"/>
<circle cx="659.20" cy="1104.20" r="2.9" fill="#46a9b9" stroke="#0a0a0a" stroke-width="0"/>
<circle cx="624.30" cy="1101.50" r="2.9" fill="#f04646" stroke="#0a0a0a" stroke-width="0"/>
<circle cx="659.20" cy="1112.00" r="2.9" fill="#46a9b9" stroke="#0a0a0a" stroke-width="0"/>
<circle cx="624.30" cy="1101.50" r="2.9" fill="#f04646" stroke="#0a0a0a" stroke-width="0"/>
<circle cx="659.20" cy="1125.20" r="2.9" fill="#46a9b9" stroke="#0a0a0a" stroke-width="0"/>
<circle cx="624.30" cy="1078.30" r="2.9" fill="#f04646" stroke="#0a0a0a" stroke-width="0"/>
<circle cx="659.20" cy="1082.20" r="2.9" fill="#46a9b9" stroke="#0a0a0a" stroke-width="0"/>
<text x="525" y="1039.2" font-size="13.2" font-weight="bold" text-anchor="middle" fill="#0a0a0a" letter-spacing="0.52" transform="rotate(-90 525 1039.2)" stroke="#0a0a0a" stroke-width="0.15">Mechanical withdrawal threshold (g)</text>
<text x="593.8000000000001" y="1144.8" font-size="12.8" font-weight="bold" text-anchor="end" fill="#0a0a0a" letter-spacing="0.6" transform="rotate(-45 593.8000000000001 1144.8)" stroke="#0a0a0a" stroke-width="0.15">Day 0_CCI</text>
<text x="629.5" y="1146.0" font-size="12.8" font-weight="bold" text-anchor="end" fill="#0a0a0a" letter-spacing="0.6" transform="rotate(-45 629.5 1146.0)" stroke="#0a0a0a" stroke-width="0.15">Day14_CCI</text>
<text x="666.0" y="1147.0" font-size="12.8" font-weight="bold" text-anchor="end" fill="#0a0a0a" letter-spacing="0.6" transform="rotate(-45 666.0 1147.0)" stroke="#0a0a0a" stroke-width="0.15">CNO_CCI</text>
</svg></body></html>
